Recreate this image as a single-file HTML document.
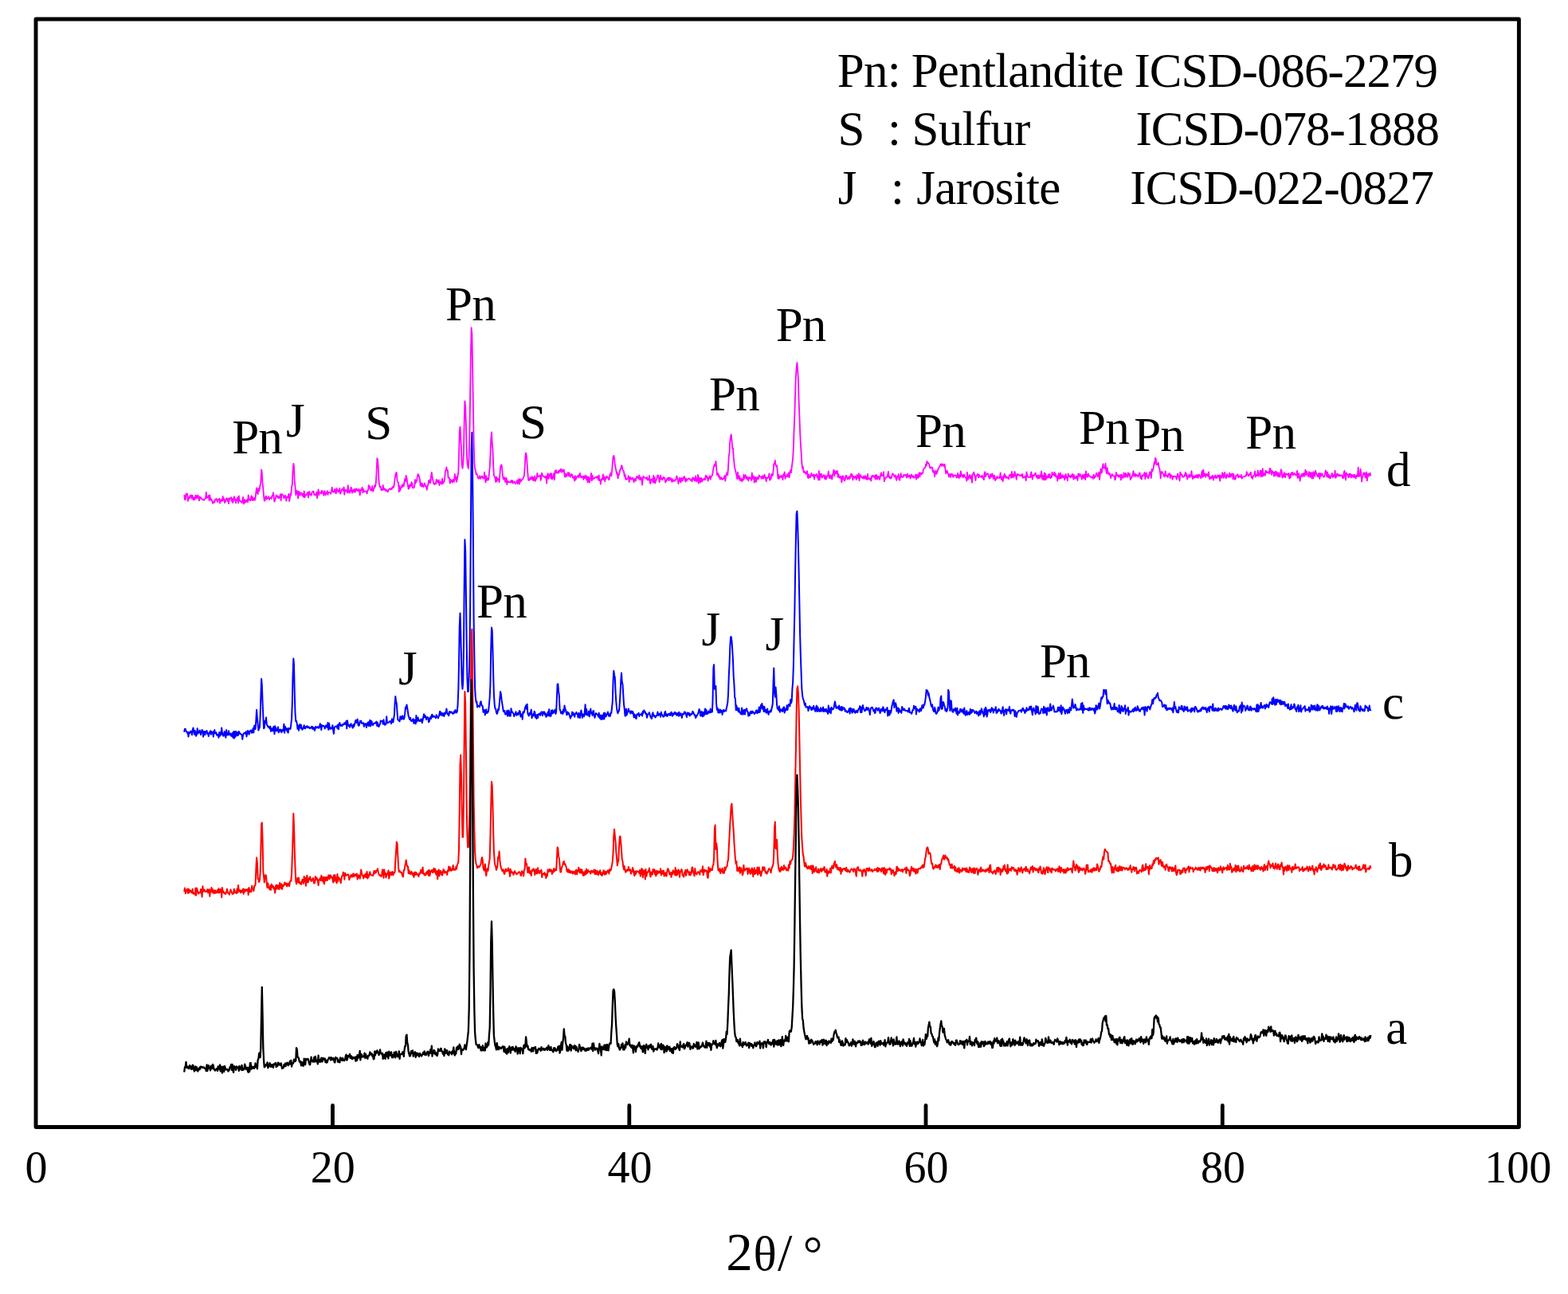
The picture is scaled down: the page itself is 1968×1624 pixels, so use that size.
<!DOCTYPE html>
<html lang="en">
<head>
<meta charset="utf-8">
<title>XRD patterns</title>
<style>
html,body{margin:0;padding:0;background:#fff;}
body{width:1968px;height:1624px;overflow:hidden;}
svg{display:block;}
text{font-family:"Liberation Serif",serif;fill:#000;white-space:pre;}
.ann{font-size:61px;letter-spacing:-0.75px;}
.icsd{font-size:61px;letter-spacing:-0.95px;}
.tick{font-size:56px;}
.axis{font-size:66px;}
.ax2{font-size:67px;}
.axt{font-size:61px;}
.axd{font-size:61.7px;}
</style>
</head>
<body>
<svg width="1968" height="1624" viewBox="0 0 1968 1624">
<rect x="0" y="0" width="1968" height="1624" fill="#fff"/>
<g id="traces">
<path d="M231.3 621.7l.7 5.4 .8-.1 .7-7.4 .8 .4 .7-.5 .8 9.3 .7-4.5 .8-.3 .7 1.6 .7-3.9 .8 2.1 .7-2.5 .8 4.7 .7-4 .8 3.5 .7 1.9 .8-3 .7 2.5 .7-5.2 .8 .1 .7 3.7 .8-1.1 .7-3 .8 2.5 .7 4.4 .8-4.9 .7 2 .7-1.1 .8 1.6 .7 .5 .8 .7 .7-.1 .8 .8 .7-1 .8-.5 .7-1.8 .7-6.6 .8 7.1 .7-1 .8 .3 .7-2.6 .8 6.5 .7-6.7 .8 6 .7-1.7 .7 1.8 .8 1.2 .7 3 .8-1.6 .7-.7 .8 1.1 .7-3.6 .8 .2 .7-1.5 .7 2.1 .8 2.2 .7-2.9 .8 .1 .7-1.6 .8 5.9 .7-4.1 .8 1.5 .7-2 .7 1.8 .8-5.9 .7 5.1 .8-1.9 .7 5 .8-1.3 .7-2.8 .8-1.1 .7-.5 .7 3.9 .8-3.2 .7 6.2 .8-7.1 .7 1.1 .8-.9 .7-1.2 .8 4.9 .7-3.1 .7 5.1 .8-2.9 .7-5 .8 2.8 .7 2.1 .8 3.4 .7-4.6 .8 .5 .7-3.1 .7 7.2 .8-9 .7 6.5 .8-.7 .7 .9 .8 .9 .7 1.1 .8-2.6 .7-4.6 .8 8.6 .7-5.7 .7 4 .8-3.2 .7 2.6 .8-2.2 .7-1.1 .8 3.3 .7-8.9 .8 5.5 .7 .8 .7 .8 .8-2.6 .7-3.7 .8 5.7 .7-4.2 .8 4.4 .7-1.2 .8-1.9 .7 2.8 .7-2.7 .8-8.1 .7-4.5 .8 6.2 .7 1.5 .8-7.3 .7 3.7 .8-3.5 .7-4.3 .7-2.2 .8-17.1 .7 3.1 .8 13.9 .7 7.3 .8 9.3 .7 5.6 .8-.4 .7-4.8 .7-.8 .8 4.1 .7-1.6 .8-.3 .7-1.7 .8 4.1 .7-2 .8-.3 .7 .1 .7 .9 .8-3.7 .7-.2 .8-3.9 .7 7.4 .8 4.1 .7-2.4 .8-2.8 .7-3 .7 1.9 .8-.8 .7 2.5 .8-1.7 .7 1.8 .8-2.3 .7-2.6 .8 7.9 .7-8 .7 .2 .8 1.2 .7 .4 .8 3.4 .7-1.2 .8-2.3 .7 2.4 .8 4.4 .7-4.9 .7-.6 .8 1.1 .7-4.4 .8 9.4 .7-3.7 .8-6 .7 1.8 .8-10.2 .7-2.5 .7-16.3 .8-10.5 .7 3.1 .8 19.7 .7 6.1 .8 10.5 .7-2.5 .8-3.1 .7 3.8 .7 6 .8-8.8 .7 1.5 .8 3.6 .7-3.4 .8 1.4 .7-1 .8 3.7 .7-2.4 .7 3.8 .8-7.5 .7 7.9 .8-1.8 .7-1.6 .8 .5 .7-2.4 .8-1.3 .7 6.9 .7-4.9 .8-2.8 .7 4.1 .8-.6 .7 1.5 .8-3.4 .7-1.2 .8-.6 .7 0 .7 4.5 .8-.6 .7 1 .8-1.1 .7-2.6 .8 7.4 .7-6.6 .8-4.2 .7 6.7 .7-3.2 .8 .2 .7 0 .8 1.5 .7-4 .8 1.8 .7 1.1 .8 3.3 .7-5.6 .7 .6 .8 4.5 .7-1.5 .8-1.2 .7-2.4 .8 4.6 .7-2.9 .8 .2 .7 0 .7 0 .8 1.8 .7-3 .8-5.3 .7 5 .8 .8 .7 .3 .8-2.2 .7-1.7 .7 4.8 .8 .6 .7-6.4 .8 3.5 .7-1.3 .8 2.7 .7-1.8 .8-3 .7 6.9 .7-2 .8-2.3 .7-1.6 .8-.4 .7 2.3 .8-4.4 .7 9.4 .8-6.3 .7 1.6 .7-1 .8 1.6 .7 1.7 .8-9.3 .7 8.7 .8-2.2 .7 3.1 .8-1.9 .7-5.1 .7 .8 .8 6.2 .7-1 .8-3 .7 2.4 .8-3.3 .7 4.1 .8-3.4 .7-1.4 .7 2.4 .8-1.1 .7 1.9 .8-2.5 .7 .8 .8 6.7 .7-4.1 .8-3.3 .7 1.2 .7-3.5 .8 6.8 .7-4.4 .8 3.2 .7-.2 .8-.4 .7-.1 .8 .4 .7 2.6 .8-4.2 .7 .1 .7-6.4 .8 3.5 .7-1.7 .8 3.9 .7 1 .8-.5 .7-5.2 .8 6.6 .7-1.8 .7-2 .8-3.6 .7 1.7 .8-4.6 .7-11.3 .8-19.8 .7 1.4 .8 10.8 .7 15.8 .7 5.6 .8 2.6 .7-.7 .8 4.3 .7 .3 .8-.4 .7-6.1 .8 5.2 .7 .8 .7-1.6 .8 1.1 .7 1.8 .8-1.3 .7 1 .8 1.6 .7-1.7 .8-1.9 .7-.1 .7-.4 .8 1.3 .7-1.7 .8 .8 .7-2.4 .8-.6 .7 1.2 .8-4.8 .7-5.9 .7-5 .8-2.6 .7-.6 .8 11 .7 1 .8 1.1 .7 11 .8-7.3 .7 5.8 .7-3 .8-.6 .7-3.1 .8 1.9 .7-3.1 .8 2.4 .7-5.4 .8-3.8 .7 3.2 .7-7.2 .8 2.8 .7 5.5 .8 4.9 .7 3.8 .8-5.1 .7 3.6 .8-4.2 .7 1.8 .7-4.9 .8 1.1 .7 6 .8 .3 .7-.4 .8-1.6 .7-8.5 .8 4.6 .7-3.4 .7 .5 .8-6.2 .7-2.4 .8 .8 .7 2.5 .8 3.4 .7 7.5 .8-3 .7 4.3 .7-3.9 .8 2.6 .7 1.8 .8-1.6 .7-3 .8 2.3 .7 2 .8-.2 .7 4.2 .7-5.1 .8-.8 .7-5.7 .8 2.6 .7-3.7 .8 4.1 .7-9 .8-4.2 .7 5.5 .7 3.3 .8 4.4 .7 .9 .8 .9 .7-1.6 .8 1 .7-5.5 .8 .4 .7 3.3 .7-.2 .8-3.1 .7 6.7 .8-2.9 .7-1.5 .8 1.8 .7 1 .8-6.7 .7 6.2 .7-2.1 .8 0 .7-3 .8-10.4 .7-1.2 .8-3.7 .7 4.1 .8-.4 .7 9.5 .7-.4 .8 .6 .7 6.7 .8-5 .7 3 .8-1.8 .7 2.8 .8-3.8 .7 2.1 .7 .8 .8-9.9 .7 6.7 .8-3.4 .7 6.7 .8-3.1 .7-4.2 .8-5 .7-19.5 .7-30.6 .8-6.8 .7 11.7 .8 17.4 .7 18.2 .8 5 .7-4.9 .8-15.3 .7-39.1 .7-25.3 .8 6.9 .7 22.1 .8 32.1 .7 15.7 .8 5.5 .7 2.4 .8-17 .7-27.6 .7-45.7 .8-54.5 .7-32.1 .8 8.8 .7 39.4 .8 50.1 .7 43.4 .8 27.6 .7 8 .7 1.6 .8 5.3 .7-1.1 .8 2.1 .7 3.4 .8 .8 .7-.8 .8-2.6 .7 3.8 .8-1.4 .7-1.5 .7-.5 .8 1.9 .7 1.2 .8-.4 .7-7.6 .8 6.9 .7 5.8 .8-8.2 .7 5.8 .7-.9 .8-2.1 .7 2.5 .8-9.3 .7-6.2 .8-16.8 .7-19.1 .8-8.7 .7 13.5 .7 7.7 .8 19.8 .7 13.3 .8 1.3 .7 2.3 .8 4.7 .7-6.4 .8 5.7 .7-4.1 .7 1.7 .8-.4 .7 3.8 .8-9.7 .7-9.4 .8-2.2 .7-.6 .8 7.5 .7 7.1 .7 3.8 .8-2.6 .7 .2 .8 5.7 .7-4.2 .8-.8 .7 8.2 .8-4.8 .7 1.6 .7 .3 .8-.5 .7 0 .8 .8 .7-2.6 .8 2.1 .7-2.2 .8 3.7 .7-2.1 .7-.2 .8 .9 .7 1.9 .8-.6 .7-1.1 .8-2.3 .7 4.3 .8-5.9 .7 .2 .7 5.9 .8-6.7 .7 3.5 .8-.7 .7-1.4 .8-1.2 .7-.2 .8-2 .7-2.3 .7-8.4 .8-15.5 .7-4.4 .8 4.2 .7 10 .8 11.5 .7 8 .8 .8 .7-.1 .7-3.6 .8 2.3 .7-1 .8-2.2 .7 4.1 .8-3.4 .7 4.5 .8-1.3 .7-4.8 .7 6.5 .8-2.8 .7-.3 .8-6.9 .7 4.7 .8-.5 .7-.1 .8-1 .7-.5 .7 6.5 .8-5.1 .7-4.2 .8 3.5 .7 .1 .8 1.1 .7 .5 .8 .6 .7-2 .7 1.7 .8 7.5 .7-10.1 .8-2.3 .7 6.6 .8-3.8 .7-1.3 .8-1.5 .7 6.1 .7-6.1 .8 7.3 .7-1.1 .8-2.1 .7-4.2 .8 8.2 .7-11.4 .8 2.8 .7-3.5 .7 3.2 .8-.5 .7 .9 .8-3 .7 1.9 .8-2.8 .7 1.5 .8-2.9 .7 4.2 .7-.2 .8-2.8 .7 1.8 .8-2.1 .7 7.2 .8 2 .7-4.3 .8 3.8 .7-2.2 .7-.8 .8-2.2 .7 4.5 .8-3.8 .7 3 .8 2 .7-2.8 .8-.8 .7 1.3 .7 3.3 .8-1.5 .7 2.7 .8 2.8 .7-6.5 .8 4.7 .7-1.7 .8-1.9 .7-.2 .7-1.3 .8 2.8 .7-4.1 .8-1.5 .7 3.4 .8 2.4 .7-1.2 .8-.8 .7 1 .7 3.2 .8-4.8 .7 3 .8-.2 .7-3.3 .8 5.4 .7-3.6 .8 7.1 .7-7.2 .7 1.3 .8 5.9 .7-2.9 .8-3 .7-5.6 .8 9.3 .7-6.6 .8 4.7 .7-1.4 .7 .6 .8-1 .7-.7 .8 .1 .7 .9 .8-2.2 .7 1.2 .8 3.7 .7-6.3 .7 6.7 .8-.9 .7 5.5 .8-5.3 .7-1.7 .8 1.1 .7-6.3 .8 6.5 .7-3.7 .8 6 .7-4.7 .7 1.3 .8-3.3 .7 1.5 .8 .1 .7 2.2 .8 1 .7-4.2 .8-3.5 .7-1 .7 3.7 .8-6.4 .7-9.4 .8-8.3 .7-1.3 .8 2.8 .7 8.6 .8 3.9 .7 3.2 .7 4.3 .8-1.4 .7 7 .8-4.1 .7-.2 .8-4.5 .7-2.4 .8-.8 .7-4.2 .7 .6 .8 4.7 .7 1.4 .8 .9 .7 6.3 .8-2.6 .7 6.3 .8-1.3 .7 1.2 .7-.6 .8-1 .7-2.9 .8 7.8 .7-5.7 .8-.5 .7 2.9 .8-.1 .7-1.7 .7-.3 .8 3.2 .7 2.4 .8-4.1 .7 0 .8 2.6 .7-3.8 .8-2 .7 .2 .7 2.2 .8 .4 .7-4.3 .8 5.6 .7 .1 .8-3.1 .7 2.8 .8 7 .7-8.3 .7-2.7 .8 1.4 .7 .2 .8 .2 .7 .4 .8 1.2 .7-2.3 .8 3.6 .7-1 .7 .8 .8-5.4 .7 8 .8 2.2 .7-5.1 .8-.6 .7 .1 .8 4.3 .7-8.7 .7 8.5 .8-6.5 .7 7.3 .8-3 .7-1.2 .8-2.8 .7-3 .8 .7 .7 3.3 .7 4.8 .8-5 .7-3.4 .8 4.6 .7-1 .8 1.8 .7-2.1 .8-1.3 .7 1.7 .7-.4 .8 5.4 .7-2.7 .8 1 .7-3.4 .8 1.3 .7-2.3 .8 3.9 .7-3.6 .7 2 .8-1.7 .7 3 .8 1.7 .7-3.4 .8 2.9 .7-1.5 .8 .5 .7 .6 .7-1.8 .8-.4 .7-4.1 .8 2 .7 2.5 .8 5.2 .7-4.1 .8-3.3 .7 3.2 .7 2.6 .8-5.7 .7 3.6 .8-.1 .7-3.7 .8 .7 .7-2.3 .8 5.1 .7 1.3 .7-3.9 .8 3 .7-1.8 .8-.2 .7-1.1 .8 .4 .7-.2 .8 1.9 .7 .3 .7-.9 .8 2.3 .7-4.9 .8 2.4 .7-1.9 .8 3 .7 .7 .8-6.1 .7 5.7 .7 1.1 .8-2.4 .7-5.9 .8 10.7 .7-7.2 .8 1.4 .7 4.8 .8-5.8 .7 .6 .7 4 .8-2.4 .7 .4 .8-1.8 .7 .1 .8 1.6 .7-5.6 .8 .9 .7 1.7 .7-1 .8 5.4 .7-4 .8 .3 .7-2.8 .8 4.5 .7-2.8 .8-1.3 .7-1.1 .7-3.2 .8-5.5 .7-3 .8-2 .7 1.8 .8-5.8 .7 6.9 .8 10.6 .7-1.7 .8-.5 .7 4.4 .7-1.2 .8 4.1 .7-.3 .8-2.1 .7 2.6 .8-.6 .7 .7 .8-1.1 .7-1.5 .7-2.1 .8 6.6 .7-5.5 .8-3 .7-2.2 .8 3.4 .7-9.3 .8-14.6 .7-4.3 .7-13.5 .8-6.5 .7-2.8 .8 7.2 .7 10.3 .8-.3 .7 11.4 .8 7.6 .7 6 .7 2.2 .8 3.7 .7 2.6 .8 5.1 .7-8.4 .8 5.5 .7 2.9 .8-3.7 .7 5.7 .7-.8 .8-1.9 .7 3.7 .8-2.7 .7 1.4 .8-6.8 .7 5 .8-2.9 .7-2.1 .7 3.2 .8 1.9 .7-2.7 .8 2.9 .7 2 .8-4.4 .7 .2 .8 1.2 .7-.1 .7 2.8 .8-9.5 .7 7.6 .8-2.7 .7-.9 .8 8.1 .7-5.5 .8-1.3 .7 6 .7-3.6 .8-2.2 .7 2.4 .8-.7 .7-4.3 .8 1.4 .7 .5 .8 .2 .7 2.2 .7-3 .8-.5 .7 3.5 .8-.6 .7-4.5 .8 2.4 .7 2.1 .8 4.1 .7-4.7 .7 .6 .8-.9 .7 0 .8-4.9 .7 8.4 .8-2.8 .7 1.3 .8-6.3 .7 .9 .7 1.2 .8-6.5 .7-8.3 .8-.2 .7-4.2 .8 6.8 .7 .5 .8-1 .7 8.2 .7 8.5 .8-4.8 .7 4.6 .8-2.7 .7 .9 .8-1.8 .7 2 .8-1.7 .7 4.8 .7-6.8 .8 1.5 .7-4.5 .8 8.3 .7-2 .8-.2 .7-3.3 .8 2.4 .7 .9 .7-4.9 .8 5.5 .7-6.5 .8-2.5 .7 3.3 .8-6.7 .7-5.4 .8-6.5 .7-12.9 .7-22.4 .8-19.9 .7-24.1 .8-22.4 .7-10.4 .8-7.5 .7 7.9 .8 13.5 .7 25.8 .7 17.1 .8 21.8 .7 14.5 .8 12.2 .7 12.2 .8 7.8 .7-2.3 .8 6.8 .7 .5 .7-1.3 .8 1.6 .7 1.6 .8-1.2 .7-2.5 .8 7.9 .7 1 .8-4.5 .7 3.3 .7 .6 .8-1.7 .7-3.8 .8 2.9 .7-.8 .8 1.5 .7-2.2 .8 6.2 .7-5.3 .7 1 .8-1.6 .7-.7 .8 4.3 .7-1.9 .8 5 .7-11.1 .8 11.2 .7-7.6 .7 3 .8-3.2 .7 5.3 .8-2.4 .7-.3 .8-1.1 .7 3.3 .8 1.7 .7-4.3 .7 4.7 .8-2.2 .7-1.7 .8-1.2 .7-4.7 .8 8.2 .7-3 .8 3.2 .7-3.6 .7 3.7 .8 1.2 .7-5.3 .8-2.9 .7-3.5 .8 7.6 .7-5.7 .8 .8 .7 1.8 .7-3.2 .8 .3 .7 7.6 .8-3.8 .7 3.9 .8 .8 .7-1.7 .8-.1 .7 7.2 .8-2.7 .7-5.4 .7 1 .8 3.3 .7 2.2 .8-1.4 .7-5.1 .8-.2 .7 1.5 .8 2.9 .7-1.9 .7 1.6 .8-3 .7 2.8 .8-2.1 .7-4 .8 2.9 .7-2.1 .8 6.9 .7-4.4 .7 .3 .8 1.5 .7-2.1 .8 1.8 .7 2.5 .8-6 .7 2.4 .8 1.6 .7-5.9 .7 9.1 .8-5.6 .7-1.6 .8 2.3 .7 1.2 .8-.2 .7 .9 .8-2.9 .7 3.4 .7-.2 .8-3.4 .7 4.1 .8-2.7 .7 3.4 .8-7 .7 6.5 .8-.6 .7-.4 .7 1.3 .8-1.7 .7 3.5 .8-6.3 .7 1 .8-1.6 .7 1.6 .8 .6 .7-1.7 .7 4.6 .8-5.7 .7 .1 .8 5.6 .7-4.1 .8 2.3 .7-1.6 .8 3.6 .7-2.3 .7-4 .8-2.3 .7 4.1 .8-.4 .7 .2 .8-5 .7 12 .8-2.2 .7-2 .7-.9 .8-.5 .7 .4 .8-3.9 .7-3.2 .8 7.1 .7 .9 .8-1.6 .7 2.4 .7-1 .8-2.5 .7-2.9 .8 .6 .7 1.4 .8 1.6 .7 .7 .8-2.2 .7 5 .7 1.3 .8-4.9 .7 .6 .8-3.3 .7 6.6 .8 1.1 .7-4.4 .8-4.2 .7 4.5 .7-.5 .8 .8 .7-.5 .8-2.7 .7 .9 .8-.3 .7-.8 .8 1.6 .7 2.3 .7-4.9 .8 3.2 .7 .8 .8-1.9 .7-.4 .8 4.2 .7-1.8 .8-3.2 .7 2.6 .7 .6 .8-1.5 .7 2.6 .8-1 .7-.3 .8-3 .7 6.1 .8-5.3 .7-.5 .7 4.3 .8-3 .7-4 .8 5.3 .7-4.6 .8-.4 .7 1.7 .8-1 .7-.2 .7-4.6 .8-1.1 .7-.7 .8-.6 .7-4.2 .8 1.7 .7-5.6 .8 2.6 .7-.8 .7 1 .8 2.5 .7 2.9 .8 .5 .7-1.2 .8 1 .7-.7 .8 6 .7-2.2 .7 1.3 .8 6.5 .7-5.2 .8-2.7 .7 4.5 .8-1.3 .7-2.4 .8-3 .7-.7 .7-1.8 .8-.6 .7-2.1 .8-.8 .7 2.8 .8-2 .7-.5 .8 2.1 .7 1 .7-2.9 .8 6.6 .7 5.1 .8-2.5 .7-1.2 .8 3.4 .7 .3 .8 4.2 .7-3.3 .7-.1 .8 3.7 .7-4 .8-.2 .7 1.2 .8 3.1 .7-2.5 .8 .8 .7-.2 .8-.8 .7 .8 .7 2.5 .8-.9 .7-4.6 .8 5 .7 1.1 .8-4.2 .7 2.8 .8-7.4 .7 6.4 .7-2.2 .8 1.7 .7 2 .8-3.6 .7 .5 .8 2.4 .7 .6 .8 1.3 .7 3.2 .7-10.8 .8 8.9 .7-.9 .8-3.1 .7-1.9 .8 4.4 .7 .4 .8-3.7 .7 8.9 .7-10.7 .8-.6 .7-1.8 .8 3.5 .7 1.8 .8 5 .7-6 .8-.1 .7-1.6 .7-.3 .8 4.3 .7-3.3 .8 1.5 .7 .7 .8 .7 .7-.9 .8-1.4 .7 3.5 .7-1 .8 3 .7-8.4 .8-1.4 .7 5.9 .8-2.8 .7-.9 .8 0 .7 0 .7 3.1 .8 2.4 .7 .6 .8-5.4 .7 3.3 .8-1.1 .7-3 .8 2.4 .7 4.3 .7-4.2 .8 0 .7 6.1 .8-1.5 .7-.2 .8-3.4 .7 1.9 .8-.4 .7 .1 .7 .6 .8-2.2 .7-4.5 .8 7.6 .7 1.1 .8-3.6 .7 5.6 .8-4.4 .7-3.5 .7-1.4 .8 4.7 .7-2.3 .8 2.6 .7 .1 .8-1.1 .7 .7 .8 1.6 .7-4.9 .7 .2 .8-.9 .7 4.3 .8-7.8 .7 5.5 .8 1.9 .7-4 .8 2.4 .7-5.8 .7 3.3 .8 2.8 .7 3.7 .8-7.1 .7 1.9 .8-.9 .7-.2 .8 1.3 .7 .6 .7-.3 .8-1.5 .7 2 .8-2.6 .7 4.9 .8-.8 .7-.3 .8-1.1 .7 .9 .7 4.5 .8-10.7 .7 3.3 .8 2.8 .7 .4 .8 0 .7 .2 .8-.1 .7-4.3 .7-2.4 .8 6.8 .7 2.4 .8-5.3 .7 .9 .8-.4 .7-2 .8-1.1 .7 3.3 .7 2.3 .8-2.6 .7 3.9 .8-4.1 .7 4 .8-3.2 .7 1.8 .8-3.7 .7-4 .7 9.3 .8-3.9 .7 5.5 .8-1.4 .7-7.3 .8 9 .7-7.8 .8 6.4 .7-1.9 .7-1.5 .8 1.8 .7-4 .8 3.5 .7-4.1 .8 5.2 .7-1.8 .8 1 .7-6.5 .7 1.6 .8 2 .7-.5 .8-3.3 .7 4.9 .8-2.6 .7 3.6 .8-.9 .7 6.1 .7-5.6 .8-4.1 .7 6.8 .8-.7 .7-6.4 .8 6.7 .7-1.8 .8-2.5 .7 3.3 .7-1.9 .8-.4 .7 5.1 .8-2.1 .7-5.2 .8 4.6 .7-.9 .8 4.7 .7-8.9 .7 3.7 .8-1.4 .7 1 .8 1.6 .7-2.6 .8 2.1 .7-3.6 .8-.1 .7 6.5 .7-5.4 .8 2.1 .7 2.3 .8-.8 .7-2.4 .8 2.7 .7 2.9 .8-8.7 .7 1.8 .8 1.7 .7-3 .7 2.6 .8 .4 .7 3.8 .8-5.8 .7 2.2 .8 2.1 .7-4.8 .8 1.9 .7 4.8 .7-10.5 .8 6.8 .7-2.6 .8 3 .7-4.4 .8 3.1 .7-.2 .8 .6 .7 .8 .7 .9 .8-.9 .7-.3 .8 2.5 .7-5.1 .8 4.3 .7-2.3 .8 .9 .7-3.1 .7-1.8 .8 1.8 .7 2.8 .8-2.9 .7-2.7 .8 9.3 .7-7 .8-6.7 .7 5.2 .7-.7 .8-7 .7-3.7 .8 5.2 .7-.3 .8 .8 .7-6.2 .8 9.2 .7 3.5 .7-7.1 .8 5.1 .7 2.6 .8 .5 .7-1.4 .8 2.7 .7 3.3 .8-3.2 .7-1.8 .7 1.5 .8 .5 .7 .7 .8-.4 .7 5 .8-1.6 .7-7.9 .8 4.2 .7-1.3 .7 1.2 .8 1.8 .7-2.2 .8 1.4 .7-1.8 .8 6.2 .7-6.7 .8 2.6 .7 1.8 .7-1.1 .8-5.5 .7 3.2 .8 2.4 .7-5.1 .8 1.5 .7 2.7 .8 .6 .7-5.4 .7 1.1 .8 3.1 .7-3 .8 7.6 .7-2.4 .8 .1 .7-3 .8-1.2 .7-4.4 .7 6.7 .8-1.5 .7-1.9 .8 3.5 .7-2.1 .8-.1 .7 .9 .8 1.7 .7-1.9 .7-2.8 .8-.1 .7 6.6 .8-2.3 .7 3.7 .8-5.4 .7 1.2 .8-.7 .7-2 .7-1.7 .8 8.2 .7-6.3 .8-1.4 .7 4.5 .8-.5 .7 2.9 .8-2.7 .7-3.5 .7-2 .8 2.9 .7 4.9 .8-11.1 .7 2.7 .8-2 .7-2.9 .8-6.2 .7 1.8 .7-7.6 .8 1 .7 7.1 .8 .8 .7-.6 .8-2.5 .7 5.6 .8 1.9 .7 4.5 .7 7.8 .8-7.6 .7-.8 .8 1.5 .7 1 .8 1.2 .7 2.8 .8-1.8 .7-5.1 .7 6.1 .8-.6 .7-.3 .8 2.3 .7-4 .8 .5 .7-1.4 .8 6 .7-4.3 .7 1.4 .8-.1 .7 4.8 .8-4.2 .7 .5 .8-.8 .7 .5 .8 .2 .7 .8 .7 2.6 .8-5.3 .7-1.7 .8 3.9 .7 2.2 .8 2.7 .7-10.6 .8 1.5 .7 2 .7-.6 .8 2.9 .7 .4 .8-1.3 .7 .5 .8-3 .7-2.3 .8 4.9 .7-2.5 .7 6.1 .8-2.6 .7-.7 .8-2.5 .7 3.5 .8-2.5 .7 1.1 .8-6.5 .7 6.7 .8 3.2 .7-3.7 .7-.1 .8 2.6 .7-1.1 .8-1.9 .7 2.3 .8-3.1 .7 3.1 .8 .6 .7-4.2 .7 .2 .8 2.2 .7-.3 .8 2.6 .7-6.3 .8-3.1 .7 8.1 .8-9.3 .7 7.9 .7-2.7 .8-.4 .7 4.4 .8-2.4 .7-1.5 .8 1 .7 1.9 .8-5.4 .7 7.7 .7 1.2 .8-2.3 .7-.5 .8 1.9 .7-3.5 .8-.1 .7 5.8 .8-4.2 .7 .7 .7-2.6 .8 3.5 .7-1.7 .8 1.6 .7-3.3 .8 .5 .7 1.6 .8-2.4 .7 7.3 .7-6.6 .8 1.4 .7 1.2 .8-6.4 .7 1.5 .8 5.1 .7-4.3 .8-2.6 .7 5.2 .7 2.2 .8-1.3 .7-4.1 .8 2.7 .7 .5 .8 .8 .7-5.2 .8 4.5 .7 .5 .7-4.1 .8 2.6 .7-2.6 .8 6.8 .7-6.4 .8 4.6 .7 2.1 .8-.3 .7-4.8 .7 .8 .8-1.1 .7-1 .8 4.1 .7-1.4 .8-.9 .7 1.5 .8 .2 .7-2.9 .7 4.6 .8-1.1 .7-1 .8-.2 .7-.2 .8 0 .7-1 .8 .4 .7-5.3 .7 2.4 .8 1.2 .7 1.8 .8-2.2 .7 .7 .8-2.3 .7-.9 .8 6.5 .7-1.6 .7 3.2 .8-3.4 .7-.4 .8-1.6 .7-4.1 .8 7.2 .7-2.6 .8 .4 .7 .5 .7-6.4 .8 7 .7-.9 .8-2.4 .7-3.9 .8 7.9 .7-7.3 .8 6.9 .7-9.7 .7 9.3 .8-2.7 .7-.4 .8 2.5 .7-6.1 .8 .7 .7 2.1 .8-1.1 .7 .7 .7-1 .8 2.4 .7-6.6 .8 .2 .7 4.5 .8 3.3 .7-4.9 .8 2.4 .7-.4 .7 4.7 .8-5.2 .7 4.6 .8-5.5 .7 .7 .8 4.6 .7-3.4 .8 4.5 .7-4.7 .7 3.8 .8 1.4 .7-4 .8-5.4 .7 1.7 .8 8.7 .7-3.6 .8 2.5 .7-5.4 .7 4.7 .8 1.3 .7-4.6 .8 .9 .7 .1 .8-.7 .7 2.4 .8-3.1 .7 6.7 .7-5.3 .8 4.1 .7-6 .8 1.8 .7-2.4 .8 3.6 .7-1.8 .8-1 .7 .7 .7 1.9 .8-.4 .7 .7 .8-5.6 .7 9 .8-1.9 .7-3.9 .8 4.9 .7 4.4 .7-6 .8 .2 .7-2.9 .8 3.2 .7-3.4 .8-.7 .7 4 .8-2 .7-6.2 .7 6.3 .8-4.4 .7 3.4 .8 .5 .7 2.6 .8-5.9 .7 3.1 .8 3.6 .7-6.1 .7 2.7 .8 5.1 .7-7.4 .8 7.2 .7-8.3 .8 5.2 .7 .5 .8-7.1 .7 2.7 .8 1.7 .7 1.4 .7 1.9 .8-4.2 .7 0 .8 6.6 .7-7 .8 3.8 .7-1 .8-2.3 .7 2 .7 1.5 .8 1 .7-.8 .8-3.4 .7-4.3 .8 1.6 .7 6.2 .8-5.4 .7 6.1 .7-3.3 .8 4.2 .7-2.7 .8 3.3 .7-2.5 .8-1.5 .7-2.5 .8 5.5 .7-2.7 .7-.7 .8 2.1 .7-7.4 .8 9.3 .7-1.5 .8-3.5 .7-.5 .8 2.7 .7 .5 .7-2 .8 .6 .7 1.3 .8-1.1 .7 .1 .8 .5 .7 3.2 .8-.7 .7-7.2 .7-1.4 .8 8 .7 3.4 .8-8.9 .7 2 .8-.2 .7 1.7 .8 2.2 .7-4.5 .7 3 .8-3 .7 4.9 .8-3.5 .7 .4 .8 1.9 .7-2.3 .8 3 .7-3 .7 1.7 .8 2.8 .7-4.1 .8 1.6 .7-.5 .8-10.8 .7 11.4 .8-2.6 .7 1.7 .7-8.5 .8 6.2 .7 9.5 .8-5.9 .7-1.1 .8-3.9 .7 1.7 .8-1.7 .7 6 .7-3.2 .8-3.6 .7 10.6 .8-6.8 .7-1.9 .8 3 .7-2.4 .8-1.5 .7 2.9" fill="none" stroke="#ff00ff" stroke-width="1.8" stroke-linejoin="round" stroke-linecap="round"/>
<path d="M231.3 918.1l.7-3.4 .8 .2 .7 2.7 .8 .9 .7 1.3 .8-1 .7 5.8 .8-5.6 .7 1.4 .7-1.7 .8-1.1 .7 1.7 .8 2.9 .7-5.7 .8-3 .7 3.4 .8 4.9 .7-4.9 .7 3.6 .8 3.3 .7-2.3 .8-7.3 .7 6.4 .8-2.6 .7 1.2 .8-2.7 .7 3.9 .7 1.7 .8-3.5 .7-2.5 .8 .6 .7 8 .8-5.2 .7-1.4 .8 4.1 .7-4.2 .7 1.1 .8-2 .7 4 .8-.8 .7 3.8 .8-4.2 .7-1.2 .8-1.5 .7 4.5 .7-3.5 .8 1.9 .7-1.4 .8 5.9 .7-7 .8-1.5 .7 4.5 .8-.9 .7-.3 .7 3.3 .8-.3 .7-.3 .8 3.6 .7-6.7 .8 4.7 .7-4.4 .8 2.8 .7-8.7 .7 5.9 .8 3.2 .7 1.1 .8-2.8 .7-2.7 .8 5.8 .7 1.7 .8-9.5 .7 5.3 .7 1.2 .8-.2 .7-5.1 .8 4.9 .7-.5 .8-1.1 .7 3.1 .8 .1 .7-3.7 .7 5.4 .8-7.3 .7 8.5 .8-8.6 .7 6.8 .8-7 .7 4.5 .8 .9 .7-4.3 .7 3.8 .8-4.7 .7 1.1 .8 1.9 .7-.2 .8 .9 .7 .3 .8 5.7 .7-5.2 .8-2.1 .7-.5 .7-.1 .8 .8 .7-2.5 .8 6.2 .7-3.9 .8-3.4 .7 .3 .8 4.3 .7-1.4 .7-2.8 .8-.9 .7-.1 .8 3.4 .7-2.2 .8-3.8 .7 5.4 .8-8.8 .7 3.4 .7 1.1 .8-11.6 .7-12.7 .8 10.9 .7 7.1 .8 7.9 .7-2.2 .8-1.4 .7-13.8 .7-22.7 .8-24.6 .7 7.4 .8 23.2 .7 16 .8 15.8 .7-1 .8-8.6 .7 2.6 .7-6.9 .8 8.7 .7 1.5 .8 1.4 .7 .8 .8-.9 .7 2.5 .8-2.7 .7 6.1 .7-3.7 .8 1.6 .7 1.7 .8-4.5 .7-1.1 .8 9.3 .7-9.8 .8 2.5 .7 3.6 .7-.1 .8-2.3 .7-2.5 .8 6.8 .7-1.7 .8-1.9 .7-.2 .8 2.7 .7 1 .7-3.3 .8-.2 .7 1.7 .8-8.7 .7 11.1 .8-8.1 .7 2.7 .8 2 .7-2.3 .7 3.7 .8 1.9 .7-5.9 .8 1.4 .7-1 .8 .5 .7-5.7 .8-7.6 .7-19.4 .7-32.8 .8-22.7 .7 7 .8 38.6 .7 22.4 .8 10.7 .7-.4 .8 3.8 .7 6.2 .7-4.1 .8 6.1 .7-6.7 .8-1 .7 4.6 .8-3.6 .7 4.2 .8 1.5 .7-1.5 .7-1.3 .8-2.7 .7 4 .8 0 .7-2.2 .8 .3 .7-1.3 .8 2.2 .7-.5 .7-.7 .8 1.7 .7 .4 .8-.7 .7-.9 .8-.8 .7 2.9 .8-2.2 .7 2.8 .7-1.5 .8 3.1 .7-4.7 .8-.1 .7 1.4 .8-.3 .7-1.1 .8 .3 .7 1.5 .7-1.7 .8-3.9 .7 1.3 .8 6.5 .7-6 .8 1.3 .7-.5 .8 0 .7 .7 .7 2.9 .8-2.8 .7-1.4 .8 1.4 .7 1.3 .8-6 .7 8.8 .8-8 .7 4.2 .7 3.1 .8-1.5 .7 .8 .8-1.5 .7-2.7 .8 6.6 .7 4.1 .8-7.8 .7-1 .7-.4 .8-.1 .7-.4 .8 2.9 .7-4.6 .8 5.8 .7-6.6 .8-1.6 .7 2.5 .7 1.4 .8-1.3 .7 1.4 .8-1.8 .7-.6 .8 .7 .7-2.1 .8 .9 .7 .8 .7-4.1 .8 9.4 .7-10 .8 4.8 .7 1.8 .8-1 .7 2.8 .8-2.2 .7-2.2 .7 2.2 .8 1.6 .7 1.5 .8-4.4 .7 2.6 .8-2.1 .7-3.6 .8-2.4 .7 3.4 .7-1 .8-3.5 .7 6.7 .8 1.6 .7-.7 .8-5.1 .7 1.3 .8-1.8 .7 3.2 .7-.2 .8 .4 .7-.8 .8 4.5 .7-3 .8-.4 .7 .2 .8 4.5 .7-5 .8 2.3 .7-4.1 .7 5 .8-2.4 .7-5 .8 7.6 .7-6.7 .8 .7 .7 4.3 .8 .4 .7-1.8 .7-.4 .8-.7 .7 .6 .8-1.2 .7-1 .8 5.5 .7-4 .8 4.2 .7 .7 .7-2.2 .8-.9 .7-4.4 .8 .6 .7-.2 .8 .3 .7 3.5 .8-5.4 .7 5.2 .7 1.2 .8-1.7 .7 1.2 .8-9.9 .7 7.1 .8 .9 .7-.6 .8-.1 .7-.9 .7-.6 .8 .3 .7 2.8 .8-5.9 .7 1.6 .8 2.7 .7-4.5 .8-4.7 .7-14.2 .7-9.2 .8 6 .7 2.7 .8 12.4 .7 7.7 .8 1.1 .7 .5 .8 1.1 .7-6.3 .7 0 .8 3.6 .7-2.8 .8-1.6 .7 3.8 .8 .4 .7-2 .8-5.9 .7-7.1 .7 1.6 .8-4.8 .7 4.1 .8 5.3 .7 4.9 .8 2 .7 2.3 .8-2.3 .7 3.3 .7 1.2 .8-.4 .7-1.6 .8-1 .7 5.6 .8-4.4 .7 4.1 .8 1 .7-10.4 .7 7.7 .8-2.2 .7-3.1 .8 4.3 .7 0 .8-1 .7 1.2 .8-2.4 .7 0 .7 4.6 .8-3.5 .7-3.8 .8-3.6 .7 4 .8-2.3 .7 1.4 .8 3.6 .7-2.6 .7-.4 .8 .6 .7 5.7 .8-.8 .7-3.8 .8-1.8 .7 2.1 .8-4.6 .7-.5 .7 3.2 .8-1.6 .7 .4 .8 1.1 .7-.2 .8 1.5 .7-4.1 .8 2.3 .7 .5 .7 1.4 .8-2.2 .7-3.1 .8-3.3 .7 4.8 .8-3.4 .7 3.3 .8 .5 .7-2.9 .7 3.2 .8 .6 .7-4.5 .8 1.7 .7-1.2 .8-5.4 .7 3.7 .8 3.4 .7-.6 .7 2.1 .8-5.2 .7 1.8 .8-1.4 .7 .8 .8-.5 .7 1.8 .8 .4 .7-.3 .7-2.8 .8 1.8 .7-3.4 .8 1.3 .7 2.1 .8-1.7 .7-7.7 .8-18.9 .7-31.9 .7-46.7 .8-18.1 .7 21.9 .8 35.6 .7 29.5 .8 8.2 .7-8.3 .8-44.7 .7-74.9 .7-59.5 .8 14.5 .7 52.9 .8 63.9 .7 42.1 .8 17.5 .7-.9 .8-19.1 .7-25.7 .7-58.3 .8-103.7 .7-94.8 .8-22.9 .7 49.1 .8 88.3 .7 95.4 .8 50.2 .7 37.1 .7 12 .8 6.5 .7-.8 .8 6.8 .7-2 .8 .8 .7 .7 .8 .1 .7-5 .8-1.7 .7 3.9 .7 1.6 .8 .6 .7 7.3 .8-2.7 .7 0 .8 6.3 .7-3.8 .8-3.3 .7 4.9 .7-1.8 .8 .4 .7-2.3 .8-8.4 .7-7.9 .8-18.2 .7-41.5 .8-27.8 .7 3.5 .7 22.7 .8 34 .7 23.7 .8 12.3 .7 5.2 .8 .5 .7 4.4 .8 2 .7-1.1 .7-4.7 .8 1.1 .7-5.9 .8-9.2 .7-8.1 .8 3.4 .7 7 .8 5.3 .7 4.1 .7 4.7 .8 .8 .7-1.2 .8 4.2 .7 .4 .8-.5 .7-4.4 .8 6.9 .7-.7 .7-6.4 .8 3.3 .7 3.8 .8-.2 .7-9.3 .8 4.8 .7-.6 .8 1.1 .7 1.2 .7 3.4 .8-2.8 .7 .1 .8-3.1 .7 4.4 .8-1.3 .7-1.3 .8 2 .7-2.4 .7-2.8 .8 .8 .7 6.7 .8-2.9 .7-.1 .8 6.3 .7-9.3 .8 1.4 .7-1 .7-3.7 .8-2.8 .7-2 .8 4.5 .7-6.1 .8 11.8 .7 1.8 .8 1.1 .7-3.5 .7 1.7 .8-3.1 .7-2.9 .8 10.6 .7-4.5 .8-.4 .7 2.2 .8-5.8 .7 1.2 .7 6.6 .8-3 .7 4.4 .8-4.8 .7 3.9 .8-4.7 .7 .6 .8-1.5 .7 2.4 .7-1.8 .8-2.6 .7 .5 .8 4.3 .7-4.6 .8 1.8 .7-2 .8 3.8 .7-1.8 .7 4.4 .8-3 .7 1.6 .8-4.9 .7 4.5 .8-7.8 .7 8.5 .8-2.4 .7 2.5 .7-7.4 .8 4.3 .7-4.5 .8 3.7 .7-.8 .8-1.4 .7-2.1 .8 5.3 .7-2.6 .7-14.6 .8-20 .7-.3 .8 9.5 .7 5.3 .8 17.1 .7 1.4 .8 3.7 .7-.4 .7-1.8 .8 2.9 .7-5.7 .8 3.3 .7-8.1 .8 3.4 .7 2.4 .8 3 .7 3 .7-3.9 .8 2.6 .7-1.5 .8 2.3 .7 2.4 .8 2.3 .7-2.9 .8 0 .7-5.3 .7 4 .8-2.6 .7 1.1 .8 3.8 .7-3.4 .8-1 .7-1.5 .8 2.5 .7 0 .7 4.2 .8-5.7 .7 4.1 .8 2.1 .7-5.4 .8-4.2 .7 4.2 .8 5.3 .7-4.6 .7 .8 .8 2.1 .7-6 .8-8.9 .7 12.6 .8-6.8 .7 6.1 .8 1.5 .7-.1 .7-5 .8 6.8 .7-3.4 .8-6.4 .7 5.2 .8-.3 .7 3.4 .8-5.3 .7-.6 .7 5.7 .8 3.1 .7-2.8 .8-2.9 .7 .8 .8 .6 .7 .5 .8 2.5 .7-4.8 .7 5.8 .8 1.2 .7-4.2 .8 5.6 .7-5.2 .8-.1 .7 4.7 .8-7.5 .7 7.3 .8-7.7 .7 2.9 .7 1.9 .8-3.2 .7 .3 .8-3 .7 3.3 .8 2.1 .7-2.6 .8 2.4 .7-4.2 .7 .3 .8-7.1 .7-7.1 .8-25.7 .7-13 .8 5.6 .7 2.6 .8 19.1 .7 11 .7 8.3 .8 4.7 .7 2 .8-3 .7 0 .8-9.9 .7-11.7 .8-16.2 .7-10 .7 11.3 .8 3.4 .7 11.5 .8 13.2 .7 5.1 .8 9.2 .7 .5 .8-8.9 .7 7.5 .7-2.8 .8-1.1 .7-3.9 .8 3.4 .7 .1 .8 2.7 .7-3.1 .8-.1 .7 2.9 .7-2.4 .8 2.1 .7 5.4 .8-3.8 .7 .9 .8 3.8 .7 .6 .8-5.4 .7-.3 .7 .7 .8-2.1 .7 4.2 .8-2 .7-.3 .8 .2 .7-1.6 .8 3.2 .7-5.7 .7 2.2 .8-3.5 .7 1.4 .8 .6 .7 2.6 .8-.6 .7 5.2 .8-3.3 .7-1.3 .7-.2 .8-1.8 .7 3.3 .8 2.2 .7 1.4 .8 .9 .7-5.9 .8-1.6 .7 4.3 .7-1.2 .8 .8 .7 2.2 .8-1.1 .7-1 .8-1.1 .7-3.7 .8 4.3 .7-2.1 .7 1.5 .8-1.5 .7 3.9 .8-6 .7 3.2 .8 0 .7 2.7 .8 0 .7-.7 .7-4.6 .8-1.4 .7 5.1 .8-1.7 .7 2.8 .8-1.4 .7-1.7 .8 .2 .7 1.5 .7-2.4 .8 2.4 .7-4 .8 1 .7 4 .8-2.8 .7 1.1 .8-2.7 .7-.6 .7 2.6 .8-1.3 .7 2.8 .8-2.8 .7 1.1 .8 2.4 .7-4.7 .8 4.4 .7-1.6 .7-1.3 .8 2.2 .7 3.4 .8-4.9 .7 0 .8 .5 .7-3 .8 0 .7 1.5 .7 2.2 .8 2.9 .7-5.2 .8-.5 .7 2.6 .8-2 .7 3.4 .8-1.1 .7-1.4 .7 .9 .8-1.1 .7-2.9 .8 .9 .7 2 .8 2 .7-.6 .8 3.9 .7-1.5 .7-1.1 .8-1.4 .7-1.1 .8-2.6 .7-3.2 .8 1.3 .7 6.8 .8 .4 .7-5.4 .7 .3 .8 5.8 .7-5.1 .8 4.1 .7-4.3 .8-4.6 .7 6.9 .8-5.5 .7 5.3 .7-2.1 .8 1.4 .7-3 .8 1.6 .7 .5 .8-4.9 .7 4.4 .8-2.3 .7 1.8 .7-16.3 .8-39.1 .7-3.9 .8 30.6 .7-.8 .8-3 .7 22.3 .8 7.6 .7-2.3 .8 5.8 .7-.2 .7-3.7 .8 4 .7-3.8 .8 2.7 .7-1.5 .8 4.9 .7-4.6 .8-1.3 .7 2.2 .7-1.3 .8-.3 .7 .9 .8-3.3 .7-3.4 .8-4.2 .7-9.8 .8-24.1 .7-13.5 .7-19.8 .8-14.8 .7-.3 .8 5.7 .7 10.3 .8 14 .7 19.6 .8 11.1 .7 15.2 .7 2 .8 14.1 .7-5.6 .8 5.6 .7-2.4 .8 4.4 .7-4.5 .8 5.2 .7-.1 .7 2.2 .8 .5 .7-8 .8 7.7 .7 .5 .8-5.4 .7-.6 .8 5.9 .7-4.7 .7-1.6 .8-1.1 .7 3.3 .8 .8 .7 5.2 .8-3.3 .7 2.9 .8-4.3 .7-1.1 .7 2.5 .8 .1 .7-2.7 .8 1.4 .7 .4 .8 1.8 .7-1.9 .8 .5 .7-3.1 .7-.5 .8 4 .7-3 .8 1.8 .7-6.6 .8 6.7 .7-2.6 .8-6.7 .7 3.6 .7-5.4 .8 6.8 .7-3.4 .8 6.7 .7-6.2 .8 6.1 .7-2.3 .8 4 .7-1 .7-4.3 .8 5.2 .7 2.1 .8-3.6 .7 .6 .8-2.1 .7 1.8 .8-3.3 .7-3.3 .7-3.3 .8-28.8 .7-16.3 .8 30.3 .7 6 .8-12.2 .7 8.3 .8 13.9 .7 4.8 .7-1 .8 3 .7-5.2 .8 7.4 .7-3.6 .8 1.5 .7-.9 .8 2.2 .7-4.1 .7 3.4 .8-5 .7 7.4 .8-5 .7 2.1 .8-1.2 .7-5.3 .8 5.7 .7-5 .7-1.8 .8 .3 .7 2 .8-8.5 .7 4.5 .8-2.2 .7-15 .8-9.9 .7-20.6 .7-34.3 .8-34.9 .7-47.1 .8-41.7 .7-31.7 .8-3.4 .7 15 .8 27.8 .7 31.9 .7 36.6 .8 42.7 .7 25.4 .8 23.1 .7 19.7 .8 8.8 .7 4.2 .8 1.8 .7 2.9 .7 3.5 .8-2.4 .7 4.9 .8-.1 .7 .2 .8-.6 .7 5.1 .8-3.2 .7-2.7 .7 .8 .8 1.7 .7 2.3 .8-3 .7 2.5 .8-2.3 .7-2.5 .8 3.7 .7 1.9 .7 1.5 .8-5 .7-2.2 .8 7.3 .7-5.5 .8 3 .7 2.2 .8-2.1 .7 2.4 .7-4.7 .8 2.2 .7 2.2 .8-2.2 .7-2.9 .8 5.6 .7-3.2 .8 2.7 .7-.1 .7-2.8 .8 3.7 .7-1.3 .8 3.8 .7-10.3 .8 3.8 .7 4.5 .8-4.5 .7 5.8 .7-7.5 .8 2.2 .7 .6 .8-.6 .7-1.3 .8-5.1 .7-3 .8 4.8 .7 3.6 .7-.6 .8-1.2 .7 1.3 .8 1.2 .7-4 .8 5.2 .7-3 .8 3.8 .7-4.6 .8 4.5 .7-4.1 .7 2.3 .8 .1 .7-1.2 .8 4.1 .7-1.5 .8 1.2 .7 1.3 .8 .3 .7-.9 .7-1.4 .8-2.3 .7 6.2 .8-7 .7 .7 .8 3.4 .7 2 .8-4.9 .7 3.4 .7-2.9 .8 2.5 .7 2 .8-.7 .7-2.3 .8 .5 .7 1.8 .8-3 .7-1.6 .7-.5 .8-2.9 .7 7.9 .8-6.5 .7 6.6 .8-5.6 .7-3.4 .8 4 .7 1.1 .7 2.1 .8-.4 .7-1.8 .8-2.2 .7 3 .8-2.2 .7-.3 .8 2.7 .7 1.7 .7 4.2 .8-7.8 .7-.7 .8-.8 .7 .1 .8 2.4 .7 2.2 .8-1.8 .7 4.3 .7-.2 .8-6.1 .7 0 .8 1.1 .7 2.1 .8-2.3 .7-1 .8 2.9 .7 3.6 .7-1.8 .8-3.5 .7 1.2 .8 1.2 .7-4.9 .8 2.7 .7 3.6 .8 .5 .7-3.8 .7 .4 .8 .5 .7-3.2 .8 10.6 .7-6.7 .8 .3 .7 5.4 .8-5.5 .7 2.8 .7-3.2 .8-5.9 .7-2.5 .8-3.5 .7-1.3 .8 9.7 .7-4.7 .8-1.2 .7 2.5 .7 7.9 .8-.1 .7-4.2 .8 6.6 .7-5.4 .8 3.6 .7-1.4 .8 2.1 .7 .9 .7-7.7 .8 1.4 .7 2.7 .8 .3 .7-1.9 .8 2 .7 .6 .8-.1 .7 .1 .7-.2 .8 1.6 .7-2.6 .8-2.2 .7 5.5 .8-.4 .7 .9 .8 1.1 .7-2 .7-2.7 .8 0 .7-5.4 .8 3.1 .7 .3 .8-2.3 .7 9.6 .8-7 .7 2.2 .7-.4 .8-.1 .7 2.4 .8-3.7 .7-.8 .8 3.2 .7-2.8 .8-4.4 .7 3.4 .7-.1 .8-4.4 .7 .6 .8-4.9 .7-4.7 .8-9.2 .7 2.3 .8-1.1 .7 6.1 .7-3.2 .8 5.5 .7 2.7 .8 3.3 .7 4.2 .8 1.5 .7-2.7 .8 6.3 .7 1.6 .7 1 .8-5.5 .7 2.6 .8 5.1 .7 .4 .8-1.4 .7-1.5 .8-5.5 .7 4.3 .7-1.8 .8-1.7 .7-12 .8-2.8 .7 16.5 .8-.5 .7-8.3 .8 .4 .7 3.9 .7 1 .8 5.4 .7-2.1 .8 3.4 .7-1.5 .8-4.1 .7-21.8 .8 2.4 .7 15.9 .7 8 .8-12.8 .7 .5 .8 12 .7 1.5 .8 .5 .7-3.8 .8 1.1 .7 1 .8-3.4 .7 3.4 .7 3.8 .8-7 .7 8.6 .8-4.1 .7 .8 .8 .5 .7-4.6 .8 .1 .7 2.9 .7 .6 .8-3.1 .7 2.5 .8 2.8 .7-7.2 .8 7 .7 2.2 .8-3.7 .7-2.1 .7 5 .8-1.8 .7-1.3 .8 2.9 .7-.1 .8-6.7 .7 5.3 .8-4.4 .7 3 .7-2.8 .8 .1 .7 .6 .8 1.9 .7 1.2 .8-.8 .7-1.5 .8 3.4 .7-.9 .7-1.5 .8 4.8 .7-4.2 .8-2.1 .7 4.7 .8-3.8 .7-3.7 .8 2.5 .7 3.5 .7-.8 .8 4.8 .7-9.6 .8 7 .7-9 .8 2.6 .7 9.2 .8-3.3 .7-5.1 .7-.2 .8 1.4 .7-1.7 .8 3.5 .7-1.4 .8-4.4 .7 3.2 .8-2.1 .7 5.1 .7-2.2 .8-2 .7 .7 .8-3.7 .7 7.5 .8-.1 .7-3.4 .8 1.6 .7-3.1 .7 1.4 .8 .7 .7-.1 .8 3.7 .7-.6 .8-4.7 .7-2.9 .8 6.7 .7 3.9 .7-6.5 .8 .7 .7-2 .8 6.2 .7-5.8 .8 .6 .7-.6 .8 1.6 .7-5.2 .7 6.5 .8 2.2 .7-4.4 .8 .6 .7-.9 .8 .8 .7-1.1 .8 1.5 .7 6.9 .7-6.7 .8 3.7 .7 3.7 .8-4.4 .7-1.4 .8-1.2 .7-.8 .8-.2 .7-.2 .7-.3 .8 2.5 .7-1.7 .8-3 .7-.2 .8 3.2 .7-1.2 .8 4.3 .7-3.4 .7 1.4 .8-4.9 .7 3.4 .8 0 .7-1.8 .8 .9 .7-3.6 .8 3.5 .7-4.2 .7 .5 .8 6.7 .7 3.7 .8-6.8 .7-2 .8 3.3 .7 .2 .8 4.3 .7-10.4 .7 5 .8 3.6 .7-7.8 .8 6.2 .7 3.2 .8-.4 .7-.3 .8-3.4 .7-2.5 .7 .2 .8 .7 .7 4.8 .8-8.4 .7 6.8 .8 1.1 .7-6.2 .8 .5 .7 8.4 .7-7.1 .8-2.3 .7 3.5 .8 1.2 .7-1.5 .8-7.8 .7 8.2 .8 0 .7-3.3 .7-.6 .8-2.1 .7 3.7 .8 4.2 .7 0 .8-.4 .7-.2 .8 .5 .7-1.6 .7-4.1 .8 4.3 .7-4.5 .8 1 .7 4.9 .8-8.1 .7 10.9 .8-4.5 .7-4.1 .7 2.9 .8-1 .7 2.8 .8 3.4 .7-3.1 .8-1.8 .7 .5 .8 3.9 .7-4.9 .7 1.3 .8 3 .7-6.6 .8 3.6 .7-.3 .8-6.7 .7-7.2 .8 6.1 .7 5.2 .7-1.9 .8 1.2 .7-4.1 .8 3.1 .7 4.4 .8-2 .7 .5 .8 1 .7-.1 .8-.9 .7 .5 .7-1.1 .8-6.3 .7 7.9 .8-8.8 .7 12.7 .8-9.3 .7 5.5 .8-1.8 .7 .7 .7 .1 .8 .1 .7-.5 .8 1.5 .7-1.9 .8 2.4 .7-3.4 .8 2.7 .7-2.1 .7 2.2 .8-1.5 .7-.5 .8 1.3 .7 1.3 .8-2.6 .7 6.5 .8-2.4 .7-7.9 .7 .6 .8 4.8 .7-1.7 .8-3.3 .7-3 .8 6.9 .7-3.2 .8-6.3 .7-4.7 .7 1.8 .8-2.6 .7-.1 .8-8.7 .7 1.2 .8-.8 .7 5.2 .8-5.4 .7 8.6 .7 8.7 .8-4.5 .7 1.4 .8 2.6 .7-.8 .8 1.7 .7 4.3 .8 2.7 .7-2.9 .7 .8 .8 1.9 .7-2.9 .8-4.5 .7 7.2 .8-.1 .7-2.3 .8 .3 .7 4.3 .7 .4 .8 1 .7-8.9 .8 4.9 .7 5.5 .8-3.5 .7-5.7 .8 1.5 .7 4.9 .7 .2 .8-3.8 .7 .5 .8-4.1 .7 10.6 .8-5.5 .7 1.9 .8-.6 .7-4 .7 9.9 .8-5.7 .7 1.4 .8 .2 .7 .1 .8-1.2 .7-.3 .8-1.7 .7 2.8 .7-3.8 .8 2.6 .7-4.2 .8 1.9 .7 2.2 .8-.7 .7-5 .8 2.4 .7 3.2 .7-1.5 .8 2.6 .7-2 .8-.5 .7-2.1 .8 .2 .7 1.8 .8-2.7 .7 1.5 .7 8.4 .8-10.5 .7 3.8 .8-2.8 .7 4.7 .8-5.5 .7-.6 .8 1.3 .7-.7 .7 3.3 .8-3.2 .7-1.9 .8-2.7 .7-4.6 .8 5.2 .7-4.9 .8-2.4 .7 1.2 .7-1.6 .8 .2 .7-3.4 .8-.9 .7-1.9 .8 6.3 .7 .9 .8 2.5 .7-.1 .7-.4 .8 1.4 .7 .9 .8 5.8 .7-.2 .8-.2 .7-2.1 .8 .8 .7 3.7 .7-3.8 .8 6.1 .7-2.2 .8 1.7 .7-2 .8 0 .7 1.5 .8-1.6 .7 1.1 .7-.3 .8 2.1 .7-3.1 .8 5.8 .7-5.6 .8-7.5 .7 7.7 .8-1.6 .7 3.6 .7 2.7 .8 .4 .7-2.6 .8 3.2 .7-7.2 .8 1.7 .7 .6 .8 .5 .7-4.4 .7 .2 .8 5.4 .7-1.2 .8 2.9 .7-6.5 .8 4.4 .7-3.4 .8 3.2 .7 .4 .7-3.8 .8 5.5 .7-1.4 .8 .2 .7 .2 .8-1.4 .7 3.4 .8-5.1 .7 3.8 .8-3.7 .7 2 .7-1.6 .8 4.1 .7-6.4 .8 .3 .7 1.9 .8 1.4 .7 2.8 .8 .2 .7-1.6 .7 .7 .8 .1 .7-2.4 .8 1.9 .7-3.3 .8-1.2 .7-.1 .8 2.5 .7-1.8 .7 .2 .8 1.9 .7-2.4 .8 3 .7 3.1 .8-4.9 .7 1.8 .8-3.5 .7 5.7 .7-6.1 .8-.6 .7 1.2 .8-.3 .7 4.1 .8-7.9 .7 8.4 .8-2 .7 2.3 .7-3.5 .8 .1 .7 2.9 .8-1.7 .7 2.1 .8-3.7 .7 3.2 .8-1.3 .7-1 .7 .4 .8-.2 .7 1.5 .8-1.6 .7-.9 .8-2.7 .7 2.4 .8-2.1 .7-.3 .7 4 .8-3.7 .7 .5 .8 3.6 .7-.6 .8-5.3 .7 3.5 .8-1.9 .7 3.2 .7-3.8 .8 2.9 .7 2.3 .8 2.1 .7-5.4 .8-2.4 .7 5.3 .8 1.4 .7-5.3 .7 4.1 .8 3.8 .7-2 .8 .2 .7 .3 .8-5.8 .7-.6 .8-1.4 .7 9.5 .7-12.9 .8 10.8 .7-5.4 .8-1.5 .7 .9 .8 .4 .7 5.2 .8-1.9 .7-.1 .7-4.5 .8 1.1 .7 4.7 .8-1.4 .7 1.7 .8-5.1 .7 1 .8 4.3 .7-2.5 .7 .6 .8-.6 .7 1.3 .8-1.5 .7 .8 .8 1.5 .7 1.7 .8-8.5 .7 8.7 .7-9 .8 8.6 .7-4.5 .8-2.5 .7 2.9 .8-6.8 .7 6 .8-1.6 .7 2.5 .7-2.2 .8-.1 .7-1.7 .8 4.6 .7-1 .8-4.5 .7 3 .8-2.2 .7 2.2 .7 1.1 .8-3.7 .7-3.1 .8 .5 .7 .1 .8 1.8 .7-6.6 .8 6.9 .7-8.6 .7 2.9 .8 4.8 .7 1.8 .8-7 .7 6.2 .8-3.5 .7-2.8 .8 3.1 .7-.7 .7-1.3 .8 4.8 .7-4.8 .8 5.5 .7-4.1 .8 .4 .7 3.3 .8-3 .7 2.6 .7-2.6 .8 5.1 .7-.2 .8-1.5 .7 .8 .8 3.8 .7-5.4 .8 5.6 .7-.8 .7 2.5 .8-1.6 .7-5 .8 5.6 .7-2.7 .8 1.3 .7-.8 .8-4.1 .7 1.5 .7 5.2 .8-.4 .7 3.2 .8-5.5 .7-.2 .8-2.4 .7 8.3 .8-5 .7 3.7 .7-6.6 .8 8.2 .7-3.4 .8-.5 .7 0 .8-1.7 .7-.8 .8-1.1 .7 6.6 .7-2.3 .8 0 .7 .8 .8 .2 .7-.8 .8-3 .7 5.9 .8-.8 .7-2.5 .7-5.4 .8 5.2 .7 .7 .8-4.9 .7 2.8 .8 2.1 .7-5 .8 4.5 .7 1.6 .8-1.3 .7-6.2 .7 7.8 .8-6.5 .7 1.2 .8 4.7 .7-1.8 .8-1.2 .7-1.8 .8 1.6 .7-2.4 .7 3 .8 .7 .7-1.7 .8 1.4 .7-1.5 .8 .3 .7 2 .8-3.5 .7 3.4 .7-.6 .8 6.5 .7-7 .8 1 .7-3.5 .8 9.6 .7-6.6 .8-2.8 .7 3.2 .7-.1 .8-.6 .7-2.1 .8 1.9 .7 4.2 .8-6.4 .7 6.3 .8-3.8 .7-2.9 .7 4.4 .8 2.5 .7-4.7 .8-.4 .7 4.7 .8 .5 .7-4.5 .8 .1 .7-5.9 .7 6.5 .8-6.2 .7 1.1 .8 2.8 .7 .3 .8 .3 .7-1.5 .8 3.6 .7-.9 .7-1.3 .8-.8 .7 1.3 .8 1.5 .7-1.7 .8 1.5 .7 .7 .8 3.2 .7-4 .7-4.5 .8 2.1 .7 4.8 .8-9.5 .7 .2 .8 4.9 .7 4.2 .8-.2 .7 1.5 .7-6.6 .8 4.4 .7-.8 .8 2.2 .7-2.1 .8 1.5 .7 1.1 .8-.9 .7-6.2 .7 2.6 .8-1.1 .7 1.4 .8 0 .7 4.2 .8-2.4 .7-4.5 .8 5.4 .7 .3" fill="none" stroke="#0000ff" stroke-width="2.0" stroke-linejoin="round" stroke-linecap="round"/>
<path d="M231.3 1118.1l.7-3.6 .8 6.8 .7-3.5 .8-.7 .7-1.3 .8 5.2 .7-5.5 .8 4.7 .7-3.2 .7 1.6 .8-.7 .7 2.3 .8 .4 .7-4.8 .8 5.7 .7-.8 .8 .8 .7 1.3 .7-8.1 .8 9 .7-9.3 .8 2.6 .7 2.7 .8 1.9 .7-1.1 .8-.7 .7 .5 .7-4.4 .8 3 .7 6.7 .8-13.4 .7 6.1 .8 .4 .7-2.1 .8 2 .7 .7 .7-1 .8 .5 .7-2.7 .8 4.5 .7-3.3 .8-1.2 .7 8.7 .8-7.2 .7 .2 .7-3.9 .8 6.3 .7-3.9 .8 1 .7 3.9 .8-.5 .7-3.4 .8 3.5 .7-.4 .7-1.5 .8-2.1 .7 3.8 .8-5.4 .7 5.2 .8-1 .7-3.3 .8 .4 .7 9.7 .7-12.3 .8 5.8 .7-1.1 .8 2.2 .7-.4 .8 1.7 .7-.5 .8-2 .7-3.8 .7 3 .8 2.2 .7 0 .8 1.7 .7-3.5 .8-2.8 .7 1.6 .8 2.2 .7 1.8 .7 0 .8-.7 .7-5.6 .8 2.2 .7 2.5 .8-.6 .7 1.3 .8-5.7 .7 4.9 .7-9.2 .8 6 .7 1.5 .8-1.3 .7 3.2 .8-3 .7 .6 .8 1.7 .7-4.3 .8 6.3 .7-5.9 .7 3.3 .8-1.1 .7-1.9 .8 1.4 .7 .4 .8-2.2 .7 7.1 .8-8.8 .7 2.6 .7 2.9 .8-1.8 .7 1.3 .8-7.3 .7 3.3 .8 .3 .7 2.8 .8-6.4 .7 0 .7-1.8 .8-20.3 .7-13.5 .8 7.2 .7 19.6 .8-.1 .7 4.1 .8-2.3 .7-8.8 .7-24.6 .8-37.3 .7-1.5 .8 22.3 .7 38.8 .8 6.8 .7 7 .8-7.3 .7-2.1 .7 1 .8 10 .7 5 .8-5.5 .7 5.3 .8 .9 .7 1.7 .8-5 .7 5.6 .7-7.2 .8 3.8 .7-1.9 .8 .5 .7 3.6 .8-1.5 .7 6.3 .8-8.2 .7-1.9 .7 5.2 .8-2.6 .7-2 .8 4.6 .7 .3 .8-8.1 .7 2.8 .8 4.1 .7-5.4 .7 6.5 .8-5.1 .7 1.3 .8-.8 .7-3.7 .8 2.4 .7-1.7 .8 .5 .7 3.8 .7-1.4 .8-2.8 .7 1 .8 2.9 .7-5 .8-2.1 .7 .7 .8-10.2 .7-19.8 .7-23.1 .8-31.7 .7 15.4 .8 31.8 .7 21.2 .8 16.3 .7 3.6 .8-2.9 .7-4.8 .7 5.6 .8-5.6 .7 6.4 .8 .8 .7-1.5 .8 2.6 .7-3.1 .8-3.1 .7 1.2 .7 4.1 .8-9.2 .7 6.5 .8-4.3 .7 9.6 .8-10.7 .7-2.3 .8 8.7 .7-.3 .7-4.7 .8 1.4 .7-3.5 .8 3.1 .7 2.7 .8-1.5 .7-1.1 .8-1.5 .7 4.7 .7 2 .8-1 .7-7.6 .8 4.1 .7-2.8 .8 1.3 .7 2.1 .8 6.3 .7-6.7 .7-.8 .8-1.5 .7 3 .8-6.3 .7 6.5 .8 .4 .7-5.1 .8 7 .7 1.8 .7-8.6 .8 4.4 .7-3.7 .8-.6 .7 4.2 .8-1.5 .7-4.6 .8-.7 .7 4.7 .7-4.6 .8 .3 .7 2.8 .8-.7 .7 2.4 .8 4.4 .7-9.2 .8 7.7 .7-8.1 .7 3.9 .8 2.8 .7 3.7 .8-11.5 .7 9.4 .8-5.1 .7 .7 .8 1 .7 3.7 .7 1.4 .8-5.7 .7-2.9 .8-.6 .7-4.1 .8 1.7 .7 7.3 .8-7.9 .7 1.3 .7 1.7 .8-.4 .7-.6 .8-.4 .7 1.1 .8 5.7 .7-2.2 .8-1.6 .7-2.5 .7 2.3 .8 .4 .7-3.3 .8-.9 .7 3.9 .8-2.9 .7-.2 .8 2 .7-.2 .7-2.6 .8 7.2 .7-3.7 .8-1.5 .7 2.5 .8 1.8 .7-3.9 .8-7.3 .7 3.6 .7 3.2 .8 .6 .7 3.5 .8-2.5 .7-2.2 .8 3 .7-4.1 .8 4.5 .7-7.2 .8 8.7 .7-4.8 .7 2.8 .8-3.1 .7-3.3 .8 3.3 .7 .7 .8 .4 .7-.3 .8 .7 .7-2.8 .7-3.3 .8 3.3 .7-3.1 .8 2 .7-2.3 .8-1 .7-1.6 .8 4.9 .7 1.8 .7 1.6 .8-.3 .7 1.2 .8 .6 .7-2.3 .8-6.4 .7 4.3 .8 6.2 .7-10.5 .7 6.3 .8-2 .7 5.8 .8-3.1 .7-1.9 .8 .8 .7-4.8 .8 10.2 .7-3.6 .7-4.6 .8 .8 .7 3 .8-3.6 .7-.6 .8 4.4 .7-3.2 .8 .5 .7-1.6 .7-14.4 .8-11.3 .7-11.8 .8 2.4 .7 14.3 .8 15.5 .7 5.4 .8-1.4 .7 1.8 .7 .4 .8-.3 .7 2 .8 3.1 .7 .6 .8-8.3 .7 .1 .8-5.2 .7-3.3 .7-4.2 .8 5.4 .7 2.6 .8 .1 .7 8.6 .8-3.7 .7 3.1 .8 1.5 .7-2.4 .7-1 .8 3.1 .7 1.3 .8-2.6 .7 5.3 .8-2.9 .7-3.5 .8 3.5 .7-2.9 .7 2.1 .8 .6 .7-.5 .8 2.9 .7-3.8 .8 .8 .7-2.2 .8-3.3 .7 2.5 .7 1.8 .8-7.4 .7 7.9 .8 .1 .7 2 .8-2.1 .7 2 .8-3.1 .7-1.2 .7 2.6 .8-4.3 .7 6.4 .8-6.9 .7 7.2 .8-5.6 .7 .2 .8-1.7 .7 2.3 .7 .9 .8-4.5 .7-.8 .8 4.7 .7-4 .8 5.7 .7 1.5 .8-4.7 .7 10.1 .7-8.8 .8-3 .7 8 .8-3.8 .7-2.8 .8 1.2 .7 4 .8 .5 .7-4.5 .7-3 .8 1.4 .7 3.3 .8-1.8 .7 .7 .8 0 .7 3.3 .8-5.4 .7 .5 .7-5.5 .8 5.2 .7-4.5 .8 2.5 .7 2.2 .8-2.1 .7 1.1 .8-6 .7 4.7 .7 1.3 .8-.9 .7 .6 .8-3.8 .7 2.9 .8-4.9 .7-1.6 .8-2.3 .7-16.5 .7-44.2 .8-61.9 .7-11.9 .8 26.2 .7 42.4 .8 34.7 .7-.3 .8-46.1 .7-75 .7-61.4 .8 15.8 .7 56.6 .8 69.8 .7 37.9 .8 15.6 .7-.6 .8-20.6 .7-24.2 .7-62.9 .8-87.1 .7-69.9 .8-8.8 .7 60.4 .8 81.3 .7 72.9 .8 39.6 .7 25.2 .7 10.7 .8 4.4 .7 2 .8 3.4 .7-2.2 .8 .1 .7 1.2 .8-1.5 .7-.9 .8-2.3 .7-5.2 .7-2.6 .8 3.6 .7 9.3 .8 2.9 .7 .8 .8-8.2 .7 9.3 .8 5.3 .7-7.9 .7-1 .8 2.8 .7-6.6 .8-4.7 .7-4.3 .8-29.8 .7-33.4 .8-33 .7 4.7 .7 22.6 .8 36 .7 23.6 .8 13.1 .7 4.7 .8 1.5 .7 4.6 .8-2.3 .7-3.1 .7-10.8 .8-.3 .7-6.9 .8 11.4 .7 5.4 .8 4 .7 1.3 .8 2.6 .7-.8 .7-1.1 .8 5 .7 .6 .8-3.8 .7-2.6 .8 2.4 .7 .5 .8-.7 .7-3.2 .7 1.1 .8 4.1 .7 5.1 .8-9 .7 4.4 .8-1.3 .7 1.8 .8-.6 .7 2.9 .7-2.9 .8-2 .7 2.4 .8-.3 .7 2 .8-.7 .7 .1 .8-1.6 .7-.5 .7-.3 .8 1.3 .7 2.7 .8 .8 .7-5.8 .8 1.1 .7 .3 .8 4.9 .7-7.9 .7-.3 .8-13.9 .7 6.4 .8 .1 .7 4.5 .8 6.7 .7-4.6 .8-2.2 .7 7.6 .7-2.8 .8 3.2 .7 2.7 .8-6.8 .7-.8 .8 1.2 .7-2.4 .8 2.5 .7 5.2 .7-5.2 .8-1.9 .7 5.2 .8 .4 .7-7.2 .8 6 .7-1.7 .8 2.5 .7-3.3 .7 1 .8-1.9 .7 9.2 .8-4.5 .7 .5 .8 0 .7-1.7 .8 3.3 .7-2.1 .7 5.7 .8-4.7 .7 1.9 .8-8.1 .7 2.2 .8 .2 .7-2.9 .8 2.6 .7 .1 .7-1.9 .8 5.3 .7-3.9 .8 1.8 .7-4.7 .8 3.3 .7-1.9 .8-.9 .7 1.7 .7-11.6 .8-17.4 .7 1 .8 10.8 .7 1.5 .8 9.4 .7 8.4 .8 0 .7-4.5 .7-2.4 .8-2 .7-3.8 .8-.7 .7 3.7 .8-.4 .7 2.2 .8 1.6 .7 5.3 .7-2.3 .8 3.6 .7-3.7 .8 2.4 .7 1.9 .8-2.4 .7 2.5 .8-.4 .7-1.5 .7 3.1 .8-1.1 .7-1.8 .8 1.6 .7 2 .8-5.1 .7-.6 .8 5.7 .7-5.1 .7 1.1 .8-4.5 .7 5.2 .8 1.4 .7-4.5 .8 4.8 .7-4.5 .8 2.4 .7 4.3 .7 1.1 .8-4.6 .7 3.8 .8-5.2 .7 4.3 .8-6.8 .7 5.5 .8-1.9 .7-2.1 .7 2.2 .8-.3 .7 .5 .8 2.2 .7-3.9 .8 0 .7 2 .8-1.4 .7 1.3 .7-3.2 .8 5.5 .7-4.8 .8 5.1 .7-.2 .8-4.2 .7 3.7 .8 1.9 .7-4.3 .7 1.8 .8-3.6 .7 5.3 .8-2.3 .7 3.7 .8-1.7 .7-2.6 .8-2.4 .7 4.8 .8 .6 .7-4 .7 3.4 .8-1.5 .7-2 .8-1.4 .7 1.7 .8 2.6 .7-5.5 .8 1.9 .7-.7 .7-2.9 .8-3.9 .7-4 .8-12 .7-19.7 .8-9 .7 8.4 .8 7.6 .7 12.7 .7 6.5 .8 10.4 .7-3.8 .8-2.7 .7-16 .8-13.6 .7-.6 .8 8.5 .7 8.4 .7 11.7 .8 2.6 .7 6.8 .8 3.6 .7-4.1 .8 5 .7 2.7 .8-2.9 .7 1.6 .7-1.9 .8 .5 .7-4.1 .8 4.5 .7-.3 .8-.9 .7 5.3 .8-2.4 .7-.7 .7-4.5 .8 3 .7 4.6 .8 2.5 .7-5.5 .8 3.7 .7-4.1 .8 1.2 .7-1 .7 .7 .8-.2 .7 2.1 .8-4 .7 7.6 .8-2.6 .7-6.9 .8 1.1 .7 10 .7-8.8 .8 4.4 .7-4.3 .8 11 .7-12.5 .8 8.8 .7-3.4 .8-2.2 .7 .1 .7-1.6 .8-3.2 .7 7.2 .8 3.8 .7-6.1 .8 2.1 .7 1.2 .8-6.4 .7 2.6 .7-2.9 .8 6 .7-4.6 .8 6.8 .7-1.4 .8-5.1 .7 3.7 .8-.6 .7-2.2 .7 1.1 .8 .7 .7-5.2 .8 8.2 .7-5 .8-.4 .7 3.9 .8-4.4 .7 7.1 .7-1.3 .8-3 .7 3.7 .8 .5 .7-5.3 .8-4 .7 .8 .8 2.4 .7 4.1 .7-.5 .8-1.8 .7 5.6 .8-6 .7 2.5 .8-5 .7 1.3 .8 1.9 .7 2.6 .7-9.1 .8 9.8 .7-6.5 .8 5.7 .7-3.3 .8-3.3 .7 1.4 .8 8 .7-6.1 .7-.9 .8-2.8 .7 1.1 .8 6.4 .7 .7 .8 1.3 .7-4.1 .8-2.6 .7-1.9 .7 6.9 .8-5.2 .7-2.4 .8 2.7 .7 .6 .8 3.4 .7-3.6 .8 4.2 .7-1.4 .7-1.8 .8-6.9 .7 .3 .8 6.1 .7 1.8 .8 2.8 .7-9.4 .8 6.5 .7-.2 .7 1.1 .8-2.3 .7-1 .8 .4 .7 1.1 .8 2 .7-5.4 .8 .8 .7-.9 .7 2.4 .8-7.2 .7 10.9 .8-3.6 .7-3.2 .8 2.1 .7-.4 .8-.8 .7 1.3 .7 7.4 .8 .8 .7-13.6 .8 5.9 .7 .2 .8-4.3 .7 2.2 .8-.4 .7 .2 .7-5.3 .8-1.6 .7-7.9 .8-37.4 .7-4.2 .8 30.4 .7-7.8 .8 5.8 .7 16.7 .8 11.6 .7-1.6 .7 2.9 .8-3.6 .7 6.1 .8-4 .7 1 .8-3.4 .7 6.1 .8-1.5 .7 1.5 .7-7.2 .8 3.6 .7-2.6 .8-1.9 .7-.3 .8-6.2 .7-1.9 .8-16.6 .7-12.7 .7-15.5 .8-10.5 .7-13.2 .8-2.1 .7 12 .8 13.3 .7 8.4 .8 16.2 .7 9.2 .7 10.2 .8 6.1 .7-3.1 .8 12 .7-3.9 .8 3.8 .7 .3 .8-5 .7 7.6 .7-5.3 .8-1.2 .7 4.1 .8 4.9 .7-1.7 .8-10.8 .7 5.6 .8 1.4 .7-1.7 .7-1.1 .8 1 .7-1.4 .8 7.3 .7-3.7 .8-3.4 .7 3.5 .8 3.6 .7-5.1 .7 4.2 .8-6.6 .7 2.4 .8 8.4 .7-7.1 .8-3.8 .7 7.8 .8-4.8 .7 3.6 .7-3.1 .8-4.2 .7 9.3 .8-5 .7-4.3 .8 7.9 .7-3.1 .8 6 .7-3.1 .7-2.5 .8-5.6 .7 0 .8 4.1 .7-3.9 .8 4.6 .7 2.6 .8-1.6 .7 2.7 .7-1.5 .8-1.5 .7-2.4 .8-1.2 .7 1.2 .8 .7 .7 3.2 .8-4.6 .7-2.4 .7-1.3 .8-3.1 .7-13.9 .8-31.3 .7-7.1 .8 32.9 .7 1.1 .8-11.7 .7 17.5 .7 11.6 .8 7.2 .7 2.4 .8 1.5 .7-4.8 .8 3.3 .7-4.8 .8 3.9 .7-1.7 .7 1.8 .8-5.7 .7 4.5 .8-.7 .7-1.3 .8 3.9 .7-1.6 .8 .1 .7 1.8 .7-7.5 .8 4.2 .7-8.3 .8 3.4 .7-4.4 .8-1.1 .7 .1 .8-4.3 .7-11.1 .7-15.6 .8-26.1 .7-38.4 .8-41.2 .7-45.4 .8-32.9 .7-2.8 .8 8 .7 20.5 .7 33.3 .8 42.9 .7 34.3 .8 28.1 .7 22.8 .8 12.2 .7 8.7 .8 3.3 .7 7.5 .7 4.6 .8-4.8 .7 1.4 .8 4.5 .7 .8 .8 .9 .7-3.2 .8 2.4 .7-1.7 .7 2.7 .8-3.8 .7 4.2 .8-4.4 .7 9.4 .8-9.4 .7 4.6 .8 3.3 .7-3.8 .7 2.1 .8-4.4 .7 5.5 .8 1 .7-.1 .8-4.1 .7 4.9 .8-2.8 .7-.8 .7-1.9 .8 3.9 .7-.7 .8-2.8 .7-.7 .8 2.2 .7-4 .8 6.6 .7-.3 .7 .7 .8-4 .7 8.9 .8-6.6 .7 2.8 .8-2 .7 .9 .8-5.1 .7 5.7 .7-5.3 .8-3.5 .7 1.9 .8 1.3 .7-5.4 .8-1.8 .7-1.7 .8 7.5 .7-1.7 .7-1.6 .8 6 .7-1.9 .8-.4 .7 3.3 .8 .5 .7-3.8 .8 7.9 .7-6.4 .8 2.9 .7-2.7 .7-.3 .8 .8 .7-1.3 .8 1.8 .7 1.3 .8-4.2 .7 5 .8 .3 .7-2.6 .7 2.4 .8-.3 .7 1.2 .8-2 .7-1.6 .8-.7 .7 1.2 .8 .2 .7 2.3 .7-3.9 .8 .5 .7 .4 .8 5 .7 3.6 .8-10.1 .7-.9 .8-.5 .7 4.1 .7 .5 .8 .1 .7-1.4 .8 1.1 .7 .7 .8 6.4 .7-7.4 .8 1.7 .7-3 .7 1.7 .8 .2 .7 6 .8-9 .7 1.5 .8-1.5 .7 3.2 .8-.7 .7-3.2 .7 3.4 .8 .1 .7-.5 .8-1.1 .7 3 .8-1.6 .7 0 .8-.1 .7-1.8 .7 1 .8 .5 .7-1.8 .8 3.6 .7-5 .8 4.9 .7-3.3 .8-.6 .7 2 .7-.5 .8 2.7 .7-4.5 .8-.3 .7 3.1 .8 4.2 .7-7.5 .8 6.1 .7 2.7 .7-7.1 .8 4.6 .7-3.5 .8-1 .7 .3 .8 0 .7-1.7 .8 2.5 .7-1.5 .7 6.7 .8-1.4 .7-3.8 .8-.1 .7 2.8 .8 4.5 .7-2.6 .8-2.4 .7 2.7 .7-9 .8 .1 .7 5.2 .8-3.2 .7 2.3 .8-.7 .7 1.1 .8 .4 .7-1.8 .7-.2 .8 3.4 .7-2.6 .8-.6 .7-.1 .8-1.2 .7-.8 .8 6.8 .7-7.4 .7 3.9 .8-.6 .7-.4 .8 1.6 .7 6.1 .8-2.4 .7-5.5 .8-3.6 .7 4.9 .7-1.1 .8-1.9 .7 4.3 .8-2.9 .7-.4 .8 5.9 .7-2.1 .8-3.4 .7 4.7 .7-3.4 .8-2.1 .7-.3 .8 .3 .7 .1 .8-1.9 .7 .9 .8-3 .7-.8 .7 3.5 .8-1.1 .7-4.7 .8-6.2 .7-2 .8-7.4 .7-3.6 .8-.7 .7 2.7 .7 5.7 .8-1.5 .7 .1 .8 2.1 .7 7.7 .8 4.2 .7-.8 .8 5.5 .7 1.7 .7-2.3 .8 .6 .7-2 .8-1.6 .7 3.1 .8 .3 .7-2.2 .8-.5 .7 2.8 .7-3.8 .8 5.8 .7-6.6 .8 .1 .7-5.1 .8-1.6 .7-2 .8-2.2 .7 5.2 .7-1.4 .8-3.7 .7 2.6 .8 .9 .7-1 .8 3.3 .7-1.1 .8 4 .7 3.2 .7-1 .8 4.9 .7-.3 .8-4.7 .7 5.3 .8-.7 .7 0 .8-2.2 .7 5.9 .8-4.4 .7 4.7 .7-.4 .8 1.7 .7-4.2 .8 4.1 .7-5 .8 6.4 .7-3.1 .8-1 .7 .5 .7 1.9 .8-4.4 .7 2.4 .8-1.7 .7 1.6 .8-2 .7 2.2 .8 2.2 .7-4.6 .7 2.2 .8 2.9 .7-1.8 .8 2 .7-6.3 .8 1.1 .7 2.5 .8 2.7 .7-4.3 .7 4 .8-4.9 .7 6.3 .8-6.5 .7 6.6 .8-5.4 .7 .4 .8-1.3 .7 1.8 .7 6.2 .8-4.4 .7-2 .8-.5 .7 3.3 .8-5.6 .7 5 .8-.1 .7-2.1 .7 1.3 .8-.9 .7 1.7 .8-1.3 .7 2 .8-3.3 .7 2.1 .8-.8 .7-2.1 .7-.6 .8 5.5 .7-8.7 .8-.8 .7 8.5 .8 .7 .7-.2 .8 1.9 .7-2.7 .7 .8 .8-2.1 .7 1.4 .8 3.2 .7-3.6 .8-3.7 .7-.9 .8 5.6 .7-5.6 .7 1.6 .8-.3 .7 7.9 .8-6.5 .7-.4 .8 3.1 .7-1.5 .8-5.8 .7 3.8 .7-5.1 .8 6.5 .7 1.4 .8-2.1 .7 5.2 .8-11.3 .7 10.4 .8-4.8 .7 1.2 .7-2 .8 1.6 .7 1.1 .8-4.5 .7 1.8 .8-1 .7-.2 .8 3.8 .7-1.5 .7 2.1 .8-1.9 .7 .9 .8 5.4 .7-3.2 .8-5.2 .7 .4 .8 3.1 .7 1.2 .7-4 .8-1.6 .7 2.8 .8 4.3 .7-2.7 .8-2.2 .7 .9 .8-1.6 .7 3.5 .7-5.6 .8 3.1 .7 2.3 .8-2.5 .7 3.1 .8 .3 .7 2.1 .8-4.6 .7-2.7 .7-.7 .8 3.4 .7-4.6 .8 7.6 .7-5.4 .8-.1 .7 1 .8 2.2 .7-2.1 .7 2.1 .8-1.7 .7 2.4 .8 2.3 .7-5.8 .8 2.1 .7-4.2 .8 3.9 .7 4.6 .7-1.8 .8 2.6 .7-4.4 .8-3.2 .7 5.3 .8 2.8 .7-5.5 .8-1.9 .7-1.6 .7 4.2 .8 2.9 .7-6.7 .8 2 .7-.7 .8 3.9 .7-3 .8 4.4 .7-5.7 .7 1.8 .8 .3 .7-.7 .8 1.1 .7-.4 .8 1.9 .7-2.4 .8 .4 .7-1.3 .7 3.7 .8-.6 .7-6 .8 6.4 .7 1.5 .8-6.5 .7 2 .8 2.9 .7-.9 .7-1.6 .8 4.6 .7-4.5 .8 1.7 .7 2.8 .8-5 .7 2.9 .8-4.4 .7 1.2 .7 1.8 .8-1.8 .7 .4 .8 .1 .7-1.2 .8 3 .7 2.5 .8-7.1 .7-7.5 .7 4.2 .8 3.4 .7 4.4 .8-1.4 .7-6.2 .8 4.5 .7-2.8 .8 6 .7 2.2 .8-6.6 .7 4.3 .7-2.5 .8-.4 .7 2 .8 .7 .7-2.3 .8-.4 .7 .4 .8 2.6 .7 4.1 .7-3.2 .8-8.2 .7 6.2 .8-6 .7 8.7 .8-1.5 .7 1.1 .8 .2 .7-2.3 .7-.8 .8 3.9 .7-4.3 .8 2.3 .7-3.7 .8 .2 .7 3.3 .8-2.4 .7-.5 .7 2.5 .8-7.7 .7 2.5 .8 2.7 .7 4 .8-1.8 .7-1.3 .8-3.8 .7 1.3 .7-4 .8-6.4 .7-2.7 .8 3.4 .7-9.4 .8-3.3 .7 1.4 .8 1.3 .7-.1 .7 1.7 .8 .2 .7 10.6 .8-.3 .7 1.3 .8 2.6 .7-.4 .8 7.1 .7 4.3 .7-7.4 .8 2.5 .7 4.7 .8-4.9 .7-2.8 .8-1.8 .7 6.7 .8-2.2 .7 2.9 .7-4.6 .8 4.9 .7-2.6 .8-3.9 .7 5.3 .8-.8 .7-3.6 .8 4.6 .7-2.9 .7-1 .8 .8 .7-.1 .8 2.1 .7-1.5 .8-.8 .7 .7 .8 1.7 .7 .4 .7-2.5 .8 1.5 .7-2.1 .8-2.7 .7 4.8 .8 3.9 .7-3.9 .8 .1 .7-3.1 .7 1.4 .8 4 .7-4.5 .8 1 .7-.9 .8 7.5 .7-1.6 .8-.9 .7 2 .7-3.3 .8-.8 .7 .6 .8 .7 .7 1.2 .8-7.4 .7-1.3 .8 7.3 .7-2.8 .7 1.5 .8 .4 .7-7.8 .8 6.1 .7-1.8 .8-.6 .7-.1 .8 9.4 .7-8 .7-3.3 .8 4.5 .7-1.7 .8 1.2 .7-5.5 .8 1.6 .7-5.7 .8 3.4 .7-4.6 .7 .8 .8-2.9 .7-.3 .8 1.7 .7-.5 .8-1.5 .7 8.4 .8-3.5 .7-1.4 .7-.8 .8 5.5 .7 2.3 .8-5.1 .7 4.3 .8 2.5 .7-1.5 .8 .8 .7 3.8 .7-6.2 .8-.8 .7 2.8 .8 .8 .7 4.3 .8 .5 .7-5.2 .8 2.3 .7-1.6 .7 .6 .8 4.3 .7-5.1 .8 4.7 .7-2.8 .8 2.8 .7-4.3 .8-2.4 .7 9.2 .7 2.6 .8-2.3 .7-4.3 .8 .3 .7 .2 .8-.3 .7 5.4 .8-3.9 .7 2.6 .7-3.7 .8 2.6 .7-5.1 .8 0 .7-.4 .8 4.7 .7 1.7 .8-5 .7 1.3 .7-2.6 .8 .1 .7-2.3 .8 7.3 .7-5.6 .8-.7 .7 1.7 .8-.3 .7 .3 .8-.9 .7 5.2 .7-3.3 .8 .6 .7-1 .8-2 .7 2.2 .8-1 .7 2 .8-.6 .7-2.3 .7 3 .8-2.5 .7 3.3 .8-4 .7 1.3 .8 0 .7-1.4 .8 1.9 .7-1.2 .7 .3 .8 5.4 .7-3.1 .8-3.8 .7 3.5 .8-2.6 .7-1.7 .8 1 .7 5 .7-6.9 .8 2.1 .7-.2 .8 .9 .7 3.9 .8-2.7 .7 3.1 .8-4.3 .7 4.1 .7-3.2 .8 2.6 .7-2.7 .8 4 .7 1.3 .8-6.2 .7 .4 .8 3 .7-.9 .7-4.3 .8 2.6 .7 2.4 .8 3.1 .7-6.2 .8-.8 .7 3.3 .8-1.4 .7-1 .7 .7 .8-1.2 .7 3.3 .8-6.3 .7 4.3 .8 1.7 .7-.7 .8-7.2 .7 5.7 .7-2.1 .8 7.3 .7-.5 .8-2.9 .7-1.7 .8 2.9 .7-.3 .8-6.4 .7 8.4 .7-3.6 .8-3.9 .7 6 .8-6.2 .7 4.6 .8 2.4 .7 .3 .8-2.5 .7-3 .7 4.3 .8-.1 .7 1.7 .8-7.4 .7 3.3 .8 .3 .7-1.3 .8 0 .7 1 .7-3 .8 2.5 .7 1.4 .8-5.4 .7 4.6 .8-1.4 .7 1.9 .8 2.7 .7-4.8 .7-1.6 .8 6.3 .7-3.4 .8-4.6 .7 6 .8-.8 .7-4.2 .8 3.2 .7 1.3 .7-4.6 .8 3.5 .7-1.1 .8 1.3 .7 1.9 .8-3.2 .7-.6 .8 3.1 .7-1.5 .7 3.9 .8-6.2 .7-2.2 .8 6.9 .7-4 .8-1 .7 1.2 .8 3.8 .7-8 .7-3.4 .8 3.8 .7-.2 .8 5 .7-3.5 .8 1.6 .7-1.1 .8-2.8 .7 6 .7-1.8 .8 2.9 .7-3.9 .8-3 .7 4.7 .8 2.4 .7-3 .8-3.2 .7 2.3 .7 4 .8 .5 .7-5.8 .8 1.1 .7-4.2 .8 5.7 .7 .4 .8 8.9 .7-8.9 .7 4.4 .8-3.6 .7-1.9 .8 3.6 .7 2 .8-6.9 .7 4.3 .8 1.6 .7-5.7 .7 3.6 .8-.4 .7 1.4 .8 3.9 .7-6.9 .8-.1 .7 3.7 .8-1.2 .7-.6 .7-5.3 .8 5.6 .7-.3 .8-.5 .7-1.1 .8 .4 .7-.1 .8 4.6 .7-2.1 .7 .7 .8-1.1 .7 .9 .8-3.4 .7 5.4 .8-2.2 .7 1.4 .8-2.8 .7 1 .7 .7 .8-1.7 .7-2.3 .8 3 .7 3 .8-2 .7-4.1 .8 3.5 .7 1.3 .7-1.4 .8-2.5 .7-1.7 .8 6.1 .7-2 .8 6.7 .7-6.1 .8 .4 .7-3.5 .8 3.1 .7 3 .7-3.9 .8-1.2 .7-3.7 .8 4.2 .7-6.3 .8 7.7 .7 .9 .8-5.2 .7 1.4 .7 .6 .8-4.2 .7 1.5 .8 1.9 .7-1.7 .8 4.7 .7-.1 .8-1.8 .7 1.8 .7-5.7 .8 4.1 .7 .3 .8-.1 .7-1.2 .8 .9 .7 2.3 .8-3.1 .7-3.5 .7 3.6 .8-.3 .7-2.2 .8 4.3 .7 1.4 .8-.2 .7-1.3 .8-.4 .7-4.3 .7 1.2 .8 4.6 .7-6.6 .8 2.8 .7 5 .8-6.5 .7 3.6 .8 2.3 .7-5.6 .7-2.5 .8 2.2 .7 3.8 .8-1.8 .7 4.5 .8 0 .7-6.2 .8 4.2 .7-1.3 .7 1 .8-2.5 .7-.7 .8 1.2 .7 3.2 .8-2.3 .7 .9 .8 .3 .7-.6 .7-1.5 .8-2.7 .7 3.7 .8 1.4 .7-1 .8-1.9 .7 4.5 .8-4.9 .7 3.8 .7 1.1 .8-1 .7 .1 .8-1.4 .7-2 .8-2.6 .7 4.6 .8 .4 .7-4.9 .7 9 .8-3.5 .7-.3 .8-.6 .7-.6 .8 1.7 .7-.6 .8-3.8 .7 2.3" fill="none" stroke="#ff0000" stroke-width="2.0" stroke-linejoin="round" stroke-linecap="round"/>
<path d="M231.3 1344.7l.7-5.5 .8-.5 .7-5.8 .8 7.1 .7-.8 .8-.6 .7 2.3 .8 .3 .7-4 .7 .5 .8 1.1 .7 3.2 .8-.3 .7-5.1 .8 .6 .7 5 .8 2.3 .7-4.4 .7-1.7 .8 4.8 .7-3.8 .8 2.8 .7 2.3 .8-2.5 .7-1.5 .8 1.8 .7-3.7 .7 1.3 .8-1.1 .7 1 .8-.7 .7 .8 .8-.5 .7 1.3 .8-.1 .7 .6 .7 3 .8-7.9 .7 7.7 .8-4.1 .7-2.7 .8 2.9 .7 .7 .8 2.6 .7-5.7 .7 3.5 .8-.3 .7-4.9 .8 1.4 .7 4.8 .8 .3 .7 1.1 .8-1.5 .7-.4 .7-.7 .8 3 .7-5.6 .8 1.9 .7 1.5 .8-5.3 .7 7.8 .8-5.7 .7 2 .7 6 .8-8 .7 .8 .8 5.6 .7-7.1 .8 1.8 .7 2.6 .8-.2 .7 .4 .7-.6 .8 2.6 .7-.8 .8-1.2 .7-3.4 .8-.1 .7-3.2 .8 7 .7-6.8 .7 7.2 .8 2.6 .7-7.9 .8 1 .7 .5 .8 3.5 .7-4.6 .8 1.9 .7-1.1 .7 .7 .8 4.1 .7-6.1 .8 2.8 .7 .5 .8 1.5 .7-5.8 .8 6.4 .7-1.9 .8 1.2 .7-2.2 .7-4.7 .8 2.6 .7 3.9 .8-2.1 .7-.3 .8 4.9 .7 1.1 .8-6.1 .7 5.2 .7-10.6 .8-.2 .7 7.8 .8-3.1 .7 2.1 .8-.2 .7-1.8 .8 2 .7-1.6 .7-4.8 .8 4.4 .7-.7 .8 3.2 .7-10.8 .8-1.7 .7-6.4 .8-1.3 .7 5.9 .7-11.4 .8-42.8 .7-33.9 .8 36.9 .7 38.6 .8 16.8 .7 8.2 .8-.7 .7-1.9 .7-.8 .8 1.1 .7-3.7 .8 6.8 .7-1.6 .8-.6 .7-3.9 .8 1.6 .7 3.2 .7-.7 .8-2.1 .7 2.6 .8 1.1 .7-4.4 .8 .3 .7-1 .8-.8 .7 5.2 .7-.9 .8-.5 .7-4.1 .8 .2 .7 2.6 .8-1 .7 1.3 .8-2.3 .7 3.6 .7 3 .8-.8 .7 .1 .8-4.2 .7 2.2 .8-3.6 .7 3.4 .8-3.6 .7-.4 .7-.5 .8 3.6 .7-1.3 .8-.3 .7-3.7 .8 3.4 .7-4.4 .8 7.7 .7-4.4 .7 .7 .8-1.1 .7-4.2 .8 .1 .7 2.4 .8-1 .7-16 .8 1.9 .7 9.5 .7 .4 .8 1.3 .7 3.8 .8 1.1 .7-.9 .8 5.2 .7-4.6 .8 1.4 .7 3.2 .7 .3 .8-9 .7 3.2 .8 4.1 .7-7 .8 1.2 .7-1.1 .8-.3 .7 .6 .7 3.4 .8 2.9 .7 .6 .8-4.2 .7-5.4 .8 5.1 .7-.9 .8 1.8 .7-1.4 .7-4.5 .8 5.8 .7-6.7 .8 3.6 .7 2.6 .8 0 .7 3.2 .8-10.7 .7 7.3 .7 .8 .8-2.8 .7 2.6 .8-4.8 .7 4.7 .8-.4 .7-4.2 .8 .8 .7 1.2 .7-1.3 .8 4.5 .7-2.4 .8 3 .7-.5 .8-3 .7-.8 .8-2.1 .7 .3 .7 0 .8 3 .7-3.4 .8 2.5 .7 .3 .8-2 .7 .8 .8 4.3 .7 .4 .7-6.5 .8 1.5 .7-.5 .8 .2 .7 4.8 .8-2.4 .7 1.5 .8 1.3 .7-6 .7 .6 .8 .5 .7 2.6 .8-3.1 .7 2 .8 1.3 .7-.1 .8-2 .7-3.4 .7-2.1 .8 7.1 .7-1.8 .8-3.9 .7 1.1 .8 .1 .7-3.4 .8 5.2 .7-2.9 .7 1.2 .8 2.8 .7-2.4 .8 1.7 .7-.4 .8-1.1 .7 0 .8 4.8 .7-5.6 .7 4.8 .8-6.9 .7 4.3 .8-1.5 .7-2.5 .8-5.3 .7 11.4 .8-7.5 .7 .5 .7 2.9 .8-.3 .7 .6 .8-1.5 .7-3.4 .8 6.3 .7-4.8 .8 3 .7 .9 .8 1.6 .7-3.8 .7-.3 .8 .2 .7-4.4 .8 2.9 .7-.8 .8-.4 .7 3.5 .8-1.4 .7 5.1 .7-.5 .8-9.3 .7 4.8 .8-4.5 .7 1.8 .8-3.2 .7 2.1 .8 .2 .7 3.4 .7-1.4 .8-5.3 .7 3.8 .8 .9 .7 1 .8-1.4 .7 7.1 .8-4.8 .7 3.9 .7-4.5 .8 5.4 .7-7.7 .8 4.8 .7-5.3 .8 4.8 .7 3 .8-8.7 .7 2 .7 3 .8-1.2 .7-3.2 .8 6.7 .7-3 .8 3.3 .7-2.7 .8-4 .7 1.8 .7 5 .8-7.5 .7 2.4 .8 2.8 .7 1.1 .8-.6 .7-6.2 .8 9.5 .7-6.1 .7 .4 .8-.1 .7-.7 .8-2.1 .7 1.5 .8 4.1 .7-7.9 .8-5.2 .7 .3 .7-13.2 .8-1.3 .7 9.9 .8 3.1 .7 8.4 .8 2.9 .7 2.6 .8-.3 .7-5 .7-1.3 .8 3 .7-3.6 .8 7.4 .7-4.1 .8 .1 .7-1.4 .8 6.5 .7-3.4 .7-1.9 .8 2.7 .7-1.9 .8 1.9 .7 1.9 .8-4.3 .7 2.1 .8-.2 .7 1.8 .7-1.5 .8-1.5 .7-1.9 .8 2.5 .7-3.6 .8 4.5 .7-1.6 .8 1.3 .7-2.9 .7-.8 .8-.3 .7 5.4 .8-3.6 .7-.1 .8-4.2 .7 4.6 .8-9.2 .7 13 .7-4.4 .8 .7 .7-3.9 .8 .8 .7 4.6 .8-2.2 .7 1.7 .8 2.2 .7-1.7 .7-6.9 .8 2.4 .7-.4 .8 .5 .7-3.1 .8 0 .7 3.5 .8 .3 .7 3 .7-2.3 .8 4.7 .7-8.8 .8 1.1 .7 4.4 .8-1.5 .7-2 .8 4.7 .7 .9 .7 .5 .8-4.7 .7 1 .8 .6 .7-.5 .8 2.5 .7-4.2 .8 2.3 .7-7.1 .7 7.9 .8 2.3 .7-4.7 .8 2.7 .7-7.7 .8 2.8 .7-4.4 .8 3.6 .7-.7 .7-5.5 .8 1.9 .7 1.6 .8 9 .7-6.3 .8 .6 .7 .4 .8-.6 .7-2 .7-3.8 .8 .8 .7 4.8 .8-5.5 .7-4.4 .8-7.1 .7-6.7 .8-26.7 .7-66.2 .7-112.7 .8-148.7 .7-85.8 .8 31.6 .7 105.9 .8 131.7 .7 93.8 .8 53.1 .7 26 .7 8.7 .8 6.8 .7 .2 .8 .5 .7 2.4 .8 1.4 .7-4.2 .8 3.1 .7-.2 .8 4.4 .7-4.3 .7 4.3 .8-6.3 .7 3.3 .8 3 .7-3.7 .8 3.6 .7-8.8 .8 5.1 .7-.2 .7-1.6 .8-5 .7 3.7 .8-13.5 .7-8.2 .8-45.6 .7-62.1 .8-25.6 .7 25.4 .7 44.9 .8 44.5 .7 28.1 .8 7.3 .7 5.4 .8 1.7 .7 3.5 .8-8.5 .7 4.8 .7 3.3 .8 .2 .7-3.1 .8 .9 .7 .6 .8 .7 .7-1.8 .8-.1 .7-1.2 .7 2 .8 4.8 .7-6.2 .8 5.2 .7 2.6 .8-4.6 .7 5.8 .8-6.7 .7 4.9 .7-4.6 .8-3.1 .7 4.2 .8 4.1 .7-6.6 .8 2.9 .7-4 .8 .3 .7 3.6 .7-1.7 .8 2 .7 1.9 .8-6.6 .7 1.3 .8 2 .7 6.1 .8-7.1 .7-.4 .7 2.5 .8 4.5 .7-7.3 .8 .7 .7 .9 .8 1.9 .7 3.8 .8-9.3 .7-1.4 .7 3.9 .8-2.9 .7-11.2 .8 7.1 .7 5.4 .8-1.4 .7 4.6 .8-.4 .7 1.5 .7-.6 .8-.4 .7 2.7 .8-4.9 .7 1.9 .8 2.7 .7-4.5 .8 .5 .7-1.1 .7-.5 .8 8 .7-4.2 .8 3.8 .7-3.1 .8-1.7 .7-1 .8 1.4 .7-.8 .7 2.6 .8-4.8 .7 2.8 .8 .7 .7-1.8 .8 0 .7 2.1 .8 0 .7-1.8 .7 .2 .8-1.5 .7 3 .8-1.8 .7-3.9 .8 3.3 .7 2.5 .8-.9 .7-3.2 .7 4.4 .8-.4 .7 0 .8 2.5 .7-5.1 .8 2.5 .7-2.3 .8 3.3 .7 .4 .7-1.8 .8 .7 .7-4.3 .8 3.8 .7-4.9 .8 9 .7-2.9 .8-7.4 .7-3.4 .7 9.8 .8-9.4 .7-4.8 .8-12 .7 7.8 .8 1.4 .7 8.3 .8 2.5 .7 7.1 .7-5.4 .8 5.7 .7-3.4 .8 1.6 .7-5.7 .8-.4 .7 7.6 .8-6.1 .7 2.4 .7 .1 .8-1.6 .7 3 .8-4.4 .7 .7 .8 5.7 .7-4.7 .8 4.2 .7-.2 .7 2.3 .8-2.9 .7-6.2 .8 3.2 .7 .7 .8 4.4 .7-2.4 .8-2.3 .7 2.5 .7-2.1 .8 2.4 .7-1 .8 2.5 .7-2.1 .8 1.8 .7-2.7 .8 1.9 .7-2.3 .7 2.2 .8-1.2 .7-.9 .8-.8 .7 .4 .8 2 .7-7.5 .8 9.5 .7-9.7 .7 5.8 .8-.3 .7 2.8 .8-1.3 .7-.8 .8 .3 .7 2.3 .8 3.8 .7-5.4 .7-6.6 .8 4.4 .7 2.3 .8 7.8 .7-11.1 .8 1 .7 2.5 .8-.7 .7-4.6 .8 6.1 .7-6.3 .7 2.7 .8 4.1 .7-7.3 .8 2.3 .7 5.1 .8-5.8 .7-2.9 .8-.3 .7 .4 .7-13.9 .8-11.2 .7-22.4 .8-19.3 .7-1.3 .8 2.4 .7 12.2 .8 19.5 .7 12.9 .7 9.7 .8 12.7 .7 2.3 .8-3.2 .7 5 .8 2.5 .7-2.3 .8 .3 .7-4.6 .7 3.1 .8-4.7 .7 8 .8-3.7 .7 3.7 .8-6.2 .7 3.7 .8-7.6 .7 2.2 .7 1.5 .8-1.4 .7-1.6 .8-4.3 .7 8.6 .8-.9 .7 2.3 .8 1 .7-3.1 .7 3 .8 6.7 .7-9 .8 3.7 .7-2.4 .8 6.5 .7-4.2 .8-3.3 .7 1.3 .7-2.2 .8-2.4 .7-1.1 .8 5.4 .7-1.1 .8 3.5 .7-2.7 .8 2.8 .7 4.3 .7-8.1 .8-.1 .7 6 .8 3.7 .7-8.8 .8-2.3 .7 3.8 .8-.3 .7 3 .7-4.8 .8 2.1 .7-.1 .8-3.5 .7 0 .8 5.5 .7 .3 .8-3.7 .7 6.4 .7-1.7 .8-1.4 .7 .4 .8-.7 .7 1 .8 .4 .7-2.2 .8-5.9 .7 5.2 .7-1.9 .8-1 .7 4.9 .8-6.6 .7 7.2 .8-4.1 .7-1.6 .8 1 .7 8.7 .7-2.4 .8-4.8 .7 3.7 .8 1.9 .7-7.3 .8 1.6 .7 3.3 .8-1.5 .7-2.1 .7 5.5 .8-3.1 .7 .7 .8 4.4 .7-5.3 .8 6 .7-6.5 .8-1.3 .7 .7 .7 2.1 .8-.7 .7-.8 .8-5.1 .7 1.1 .8 2.2 .7 2.7 .8 1.9 .7-10.6 .7 6.2 .8-.9 .7 .9 .8 .8 .7-3.1 .8-1.4 .7 6.3 .8-1 .7-3.5 .7 .5 .8-1.9 .7-2.3 .8 5.6 .7-3.7 .8-1.2 .7 1.7 .8 6.4 .7-3.1 .7-.3 .8-.2 .7 2.3 .8-.3 .7-5.5 .8 2.9 .7-1.1 .8 2.4 .7-.8 .7-5.3 .8 8.6 .7-2.5 .8-5.5 .7 7.9 .8-2.8 .7 .9 .8-1.2 .7 .3 .7-1.9 .8-3.2 .7 2.8 .8 2.2 .7-.4 .8 1.6 .7-2.1 .8-6 .7 8.2 .7-4.3 .8-1.5 .7 2.8 .8-3 .7 4.7 .8-3.6 .7 7.9 .8-6.1 .7-.9 .7-.4 .8-4.2 .7 3.5 .8 .2 .7 1.1 .8-5.2 .7 6.1 .8 3.3 .7-4.8 .8 .9 .7 1.1 .7-3.5 .8 .8 .7 3.6 .8-2.3 .7-4.2 .8-1.9 .7 10.8 .8-5.6 .7-6.2 .7 3.9 .8 .1 .7-3.8 .8-9.4 .7 3.3 .8-14.4 .7-18.5 .8-18.6 .7-25.5 .7-19.3 .8-4.9 .7-4.3 .8 20.3 .7 15.8 .8 21.2 .7 19.1 .8 16.7 .7 10.2 .7 5.3 .8 .7 .7 5.4 .8-1.8 .7-.4 .8 4.6 .7 .2 .8 2.6 .7-8.8 .7 7.7 .8 .4 .7-1.3 .8 3.8 .7-6.3 .8 3.4 .7-1.9 .8 1.1 .7-2.6 .7 2.3 .8 2.3 .7-1.5 .8 .6 .7-3 .8 6.5 .7-6.3 .8 2 .7 1.5 .7-2.1 .8 2.6 .7-1.6 .8 4.1 .7-3.1 .8-.5 .7-3.3 .8 3.4 .7 1.5 .7-1.6 .8-3.8 .7 1.1 .8 .8 .7 .7 .8-3.9 .7 8.9 .8-5.5 .7 .6 .7-1.6 .8 1.1 .7 5.3 .8-7.9 .7 1.1 .8-1.4 .7 1.2 .8 5.7 .7-6 .7 .4 .8-3.7 .7 3.9 .8 1.5 .7-2 .8 .2 .7 3.2 .8-.8 .7-1.8 .7-1.9 .8-2.1 .7 8.6 .8-8.8 .7 5.8 .8-2.4 .7-1.5 .8 4.3 .7-4.6 .7 5.3 .8-6.3 .7 4 .8 1.9 .7-6.2 .8 8.1 .7-3.6 .8-8.5 .7 9.5 .7 1.2 .8-6.2 .7-.2 .8 1.2 .7-6.7 .8 5.1 .7 1.5 .8-4.8 .7 3.7 .7 1.9 .8-12.6 .7-1.3 .8 .8 .7 .5 .8-5.6 .7-11.8 .8-14.6 .7-21.6 .7-27.7 .8-54.4 .7-56.6 .8-55.8 .7-51.2 .8-22.7 .7 14.9 .8 25.7 .7 39.9 .7 52 .8 55.1 .7 40.7 .8 35.7 .7 25.7 .8 16 .7 2.2 .8 9.7 .7 4.1 .7 3.7 .8 3.7 .7 2.4 .8-3.3 .7-.9 .8 4.3 .7-1.5 .8 6.9 .7-3.3 .7-.4 .8 2.9 .7-4.2 .8 1.1 .7 .7 .8 2.5 .7 1.9 .8-1.2 .7 0 .7-2.5 .8 1.8 .7-1.6 .8 3.9 .7-4.8 .8 1.6 .7 .9 .8 1.6 .7-4.1 .7 1.4 .8-1.5 .7-1.4 .8 6.6 .7-1.7 .8-5.3 .7 1.5 .8 4.1 .7-3.2 .7-1.2 .8 6.2 .7-4.7 .8 .2 .7 2.5 .8-3.7 .7 1.7 .8-.1 .7 .9 .7-5.1 .8 3.5 .7-3.9 .8 1.9 .7-6.3 .8-3.7 .7-.8 .8-1.6 .7 3.9 .7 1.3 .8 4.4 .7-.3 .8-.7 .7 6.6 .8-2.8 .7 2.8 .8 3.8 .7-.1 .8-5.2 .7 1.9 .7 4.1 .8-.9 .7-1.2 .8 1 .7-8.2 .8 5.1 .7-3.1 .8 2.2 .7 .7 .7 2.3 .8 2 .7-1.1 .8-1.4 .7-1.7 .8 4.5 .7-2.8 .8-5.5 .7 4.6 .7 1.6 .8-4 .7 3.2 .8 3.5 .7-4.8 .8 .5 .7 .1 .8-2.6 .7 1.4 .7-1.5 .8 2 .7-1.4 .8 4.8 .7-3 .8 2.7 .7-5.8 .8 3.4 .7 1.6 .7 .3 .8-3.5 .7 1.4 .8 .5 .7-1.2 .8-.2 .7 2.6 .8-4.7 .7-1.7 .7 3.6 .8 2.1 .7-7 .8 9.9 .7-3.4 .8 1.3 .7-3.8 .8 2.1 .7 5.1 .7 .1 .8-3.3 .7-2.5 .8 .5 .7 3.9 .8-5.6 .7-.6 .8 2.2 .7 2.8 .7-5.4 .8 3.9 .7 0 .8-.6 .7-.8 .8 2.9 .7-.9 .8-5.6 .7 8.3 .7-3.1 .8-.4 .7-1.8 .8 .1 .7-6.1 .8 6.3 .7 2.2 .8 0 .7-3.5 .7-4.6 .8 3.3 .7 2.3 .8 4.3 .7-7.9 .8 4.5 .7 1.5 .8 .1 .7-2 .7-7.3 .8 9.2 .7-1.3 .8 1.2 .7-4.1 .8 1.3 .7 5.4 .8-4.4 .7 .3 .7-2 .8 5.4 .7-7.9 .8 3.1 .7 2.6 .8-1.3 .7 2.5 .8-1.3 .7 2.8 .7-4.5 .8 .2 .7 1.2 .8-5.7 .7 8.8 .8-6.4 .7 5.6 .8 .8 .7-1.1 .7-2.3 .8-2.2 .7-4.2 .8 7.4 .7-2.2 .8 5.3 .7-5.5 .8 2.5 .7-2.8 .7 2.2 .8-2.1 .7 .5 .8-4.8 .7 3.2 .8 1.5 .7 3.8 .8-2.8 .7-4.2 .7 7.6 .8-3.5 .7 1.9 .8-5.8 .7-7 .8 5.7 .7-2.9 .8-.4 .7-10.5 .7-3.7 .8-3.7 .7 5.9 .8 0 .7 8.3 .8 .4 .7 3.1 .8 .5 .7 4 .7 3.4 .8-3.8 .7 6.1 .8-3.5 .7 3.6 .8 2.5 .7-2.4 .8-8.5 .7 3.6 .7-8.9 .8-6.5 .7-5.1 .8-4 .7 6.7 .8 .5 .7 7 .8-.1 .7-4.5 .7 8.1 .8 2.7 .7 2.6 .8 1 .7 2.9 .8-.8 .7-2.4 .8 4.3 .7 1.4 .7-2.4 .8 3.2 .7-2 .8-2.7 .7 .5 .8 1.1 .7 1.5 .8-1 .7 2.2 .8 .5 .7-5.9 .7-.4 .8 2.9 .7 1.5 .8 1.3 .7-.7 .8-.1 .7-4.2 .8 3.5 .7-2.7 .7 2.9 .8 1.3 .7-4.3 .8 1.2 .7 7.3 .8-8.7 .7 .6 .8-1.6 .7-.9 .7 6.6 .8-4.5 .7 .1 .8-.5 .7-5.5 .8 9.7 .7-3.5 .8 1.3 .7 3.9 .7-4.1 .8 .7 .7 .1 .8 3.1 .7-7.2 .8 2.1 .7-4.4 .8 6 .7 1.7 .7-2.9 .8 6.6 .7-2.8 .8 2.7 .7-4.9 .8 4.5 .7-6.3 .8 2.5 .7-.7 .7-1.5 .8 5.6 .7-.9 .8-5.4 .7 3.7 .8-1.6 .7 .2 .8 1.2 .7-3 .7 1.9 .8 .3 .7-2.5 .8 .3 .7 3.7 .8-2.2 .7 6.3 .8-.6 .7-7.9 .7 2.9 .8-6.4 .7 3.7 .8-.7 .7 .3 .8-3.8 .7 6.6 .8-.4 .7-2.6 .7 2 .8 2.7 .7 1.9 .8-8 .7 7.9 .8-9 .7 2.4 .8 1.2 .7 5.2 .7-2.5 .8-.1 .7 2.7 .8-3.7 .7-1.8 .8 5.2 .7-4.6 .8-2.9 .7-1.3 .7 5.2 .8 4.6 .7-3 .8-2 .7 3.2 .8-7.4 .7 5.2 .8-2.6 .7 5.1 .7-6.1 .8 4.4 .7-1.7 .8-.6 .7 1.7 .8-2.3 .7 4.3 .8-4.4 .7-5.4 .7 10 .8-.3 .7-2.2 .8 2.5 .7-1.9 .8-4.1 .7-3.3 .8 2.8 .7 2.1 .7 2.2 .8-5.3 .7 1.4 .8 6.6 .7-6.1 .8-.1 .7-.6 .8 7 .7-2.3 .7 .3 .8 2.1 .7-1.9 .8 1 .7-2.6 .8 1.3 .7-.6 .8 .1 .7-5.1 .7 2.6 .8-.4 .7-.8 .8 1.7 .7 5 .8-2.4 .7-2.3 .8 .7 .7 2.9 .7-7.2 .8 4.4 .7 3.4 .8 .4 .7-2.5 .8-.9 .7-6.4 .8 2.9 .7 1.8 .7 1.2 .8 0 .7-7.3 .8 4.7 .7 2.3 .8-2.9 .7 1.5 .8 2 .7-.6 .7-.4 .8 1.5 .7 1.1 .8-3.9 .7-2 .8 .9 .7 .6 .8 1.2 .7-4 .7 2 .8 1.4 .7 4.3 .8-2.2 .7-1.8 .8 2.7 .7-1.9 .8 .2 .7 2.2 .7-2 .8-.5 .7 1.6 .8-3.5 .7 1.6 .8-5.8 .7 4.6 .8 5.3 .7-5.2 .7 1 .8-1.2 .7-1.6 .8 4.1 .7-1.4 .8 3 .7-5.4 .8 2.5 .7-1 .7-.7 .8 4.5 .7-4.9 .8 0 .7 8.8 .8-7.1 .7-.3 .8 1.8 .7-4 .8 3.6 .7-4.1 .7 1.9 .8-.3 .7 5.2 .8-2 .7 3.3 .8-.5 .7-6.4 .8 3.3 .7-2.6 .7-.6 .8 4.9 .7 .6 .8-3.5 .7 .5 .8-.1 .7 0 .8 0 .7-3.7 .7 4.4 .8-3.6 .7-1.4 .8 2.8 .7 1 .8 1.5 .7-1.4 .8-.3 .7-2.8 .7 2.8 .8-.8 .7-.1 .8-3.2 .7 5.9 .8-3.6 .7-1.9 .8-4 .7-4.3 .7-.8 .8-10.8 .7-2.5 .8-3.4 .7 .2 .8-2.4 .7 6.1 .8-6.5 .7 11.6 .7-.5 .8 5.1 .7-.4 .8 7.6 .7-.8 .8 3.8 .7-2.9 .8 6.7 .7-.3 .7-4.9 .8 5.1 .7-.3 .8 3.3 .7-4 .8 2.5 .7 3 .8-5.8 .7 7.5 .7-4.3 .8-1.3 .7-3 .8-1.1 .7 7.4 .8-3.8 .7-.4 .8 4.6 .7-1.1 .7-1.5 .8-4.3 .7-1.3 .8 7.9 .7-2.7 .8-.6 .7 5.9 .8-6.3 .7 2.1 .7 4.9 .8-4.2 .7-3.2 .8-.8 .7 5.6 .8-6.7 .7 5.7 .8 2.1 .7-4.7 .7 2.5 .8-2 .7 3.6 .8-3.1 .7-2.7 .8 2.9 .7-.6 .8-2.1 .7 1 .7-2.6 .8 .9 .7 4 .8-6.8 .7 5.8 .8-.8 .7-1.7 .8 5.4 .7-2 .7-3.5 .8 2.1 .7 1.8 .8-6.8 .7 4.7 .8-1.4 .7 1.6 .8 4.5 .7-7.8 .7 .4 .8-2.9 .7 2.8 .8-.6 .7-10.8 .8 7.2 .7-4.1 .8-16.8 .7-2.1 .7 1.2 .8-3 .7 3.3 .8-2 .7 6.7 .8-4.7 .7 7.5 .8 .8 .7 3.5 .7 0 .8 6.8 .7 7.3 .8-3.6 .7 2.5 .8 1.8 .7-2.4 .8 3.7 .7 1.1 .7-2 .8-4.3 .7 9.3 .8-3.9 .7-.1 .8-.5 .7-1 .8-2.8 .7 4.4 .7 .5 .8 2.3 .7 1.8 .8-6.4 .7 6.4 .8-4.1 .7 1.3 .8-4.3 .7 3.7 .7-3.5 .8 4.4 .7-5.2 .8 3.5 .7-1.2 .8 2.1 .7-.3 .8-.3 .7-1.8 .7 3.8 .8-.8 .7-3.7 .8 4.2 .7-3.8 .8 2 .7-.5 .8 0 .7 2.4 .7-7.1 .8 8.4 .7-8.3 .8 8.2 .7-1.8 .8-5.6 .7 5 .8-1.8 .7-2.4 .8 6.5 .7-.2 .7-2 .8 3.5 .7-4.1 .8-1.2 .7 4.3 .8-5.6 .7 4.2 .8 .9 .7-2.4 .7-.4 .8 1.1 .7-.7 .8-2.6 .7-7.8 .8 8.3 .7-2.6 .8 6.7 .7-3.9 .7 1.9 .8 1.3 .7 .8 .8-5.4 .7 8.5 .8-3.4 .7-.8 .8-4.2 .7 8 .7-3.8 .8 1.3 .7-3.9 .8 6 .7-1.2 .8-4.3 .7 5.7 .8-8.3 .7 5.2 .7-.6 .8 .1 .7-3.8 .8 .9 .7 3.6 .8 .2 .7-3 .8-.6 .7-.8 .7 5.1 .8-4.1 .7-1.1 .8-3.7 .7 .2 .8 1.8 .7-2.5 .8 4.4 .7 .3 .7-2 .8 1.6 .7 .9 .8-4.6 .7 6.7 .8-9.5 .7 12.9 .8-9.4 .7 4.1 .7-1.1 .8 2 .7-3.1 .8 3.5 .7-5.8 .8 6.4 .7-2.9 .8 1.8 .7 1.8 .7-6.1 .8 1.6 .7-.4 .8 1.7 .7 .7 .8 1.5 .7-1.4 .8-1 .7 1.9 .7 1.3 .8-.2 .7 3.1 .8-7.5 .7 2.3 .8-4.3 .7 1.7 .8 3.6 .7 1.7 .7-4.9 .8 2.6 .7-1.1 .8 1.1 .7-.9 .8-1.9 .7-5 .8 2 .7 5 .7-1.5 .8 5.8 .7-5.7 .8 2.1 .7-6 .8-.8 .7 4 .8 3.7 .7-3.8 .7-2.4 .8 1.5 .7 .1 .8-1 .7-1.8 .8-3.5 .7-.9 .8 1.1 .7 .4 .7-3.9 .8 7.3 .7-3.4 .8-3.6 .7 3 .8 4.1 .7-6.4 .8-.3 .7 2 .7-6.5 .8 2.2 .7-.4 .8 4.4 .7-6.4 .8 5.9 .7-1.7 .8 1.1 .7-.2 .7 6.1 .8-5.7 .7-.2 .8 4.7 .7-1.8 .8 3.5 .7-1 .8 .8 .7 .6 .7-4.3 .8-.5 .7 11.3 .8-8.3 .7 4.9 .8-4.2 .7 3.1 .8-.3 .7 4.9 .7-4.4 .8-3.4 .7 .4 .8 4.8 .7 1.6 .8 3.2 .7 .3 .8-9.5 .7 3.6 .7-3 .8 4.1 .7 1.5 .8-7.1 .7 7.3 .8-.4 .7-2.6 .8-.9 .7 6.1 .7-4.9 .8-2.5 .7 3.2 .8 2.6 .7-1 .8-7.2 .7 1.7 .8 2.5 .7 1.6 .7 0 .8-3.8 .7 5.9 .8-1.3 .7-5.5 .8 1.7 .7 2.3 .8-3.9 .7 4.2 .7 .4 .8-1.6 .7 2.7 .8 3.4 .7-6.7 .8 3.1 .7-2.5 .8 5.3 .7-.7 .7-3.4 .8-1.7 .7 3.8 .8-2.3 .7-3.2 .8 .6 .7 2.3 .8 6.3 .7-2.9 .8 .8 .7-1.2 .7 1.2 .8 .3 .7-7.1 .8 4.6 .7 .1 .8-.4 .7-.2 .8-8 .7 7.3 .7-4.1 .8 6.2 .7-4 .8 .7 .7 .6 .8-5.4 .7 5 .8-3 .7 6.1 .7-4.1 .8-1.6 .7 6.4 .8-4.2 .7-1.8 .8 2.3 .7-.2 .8 1.1 .7-3.3 .7 5.6 .8-2.1 .7 3.5 .8-2.8 .7-4.2 .8 5.5 .7-3.6 .8 1 .7-7 .7 3.3 .8 7.1 .7-.7 .8-7.8 .7 5.7 .8 0 .7 2.4 .8-6.3 .7-1.8 .7 5.6 .8-2.7 .7 .2 .8-.8 .7 5.7 .8-5.7 .7 5 .8-1 .7-3.4 .7 4.4 .8 .8 .7-2.5 .8-1.6 .7 2.7 .8-4.1 .7 3.3 .8 2.8 .7-7.8 .7-1.2 .8 6.8 .7-4.3 .8 1.1 .7 1.6 .8-2.1 .7 2 .8-3 .7 1.2 .7 1.2 .8 1.8 .7-2.7 .8 2.1 .7 .7 .8-.3 .7-1.7 .8 3.8 .7-5.6 .7 4.9 .8-.1 .7-.3 .8-3.8 .7 4 .8-1.4 .7-4.3 .8 2.2 .7-2.7" fill="none" stroke="#000000" stroke-width="2.3" stroke-linejoin="round" stroke-linecap="round"/>
</g>
<g id="frame">
<rect x="45.0" y="24.0" width="1861.4" height="1390.5" fill="none" stroke="#000" stroke-width="4.9" stroke-linejoin="round"/>
<line x1="417.5" y1="1414.5" x2="417.5" y2="1387.4" stroke="#000" stroke-width="4.8" stroke-linecap="round"/>
<line x1="789.8" y1="1414.5" x2="789.8" y2="1387.4" stroke="#000" stroke-width="4.8" stroke-linecap="round"/>
<line x1="1162.0" y1="1414.5" x2="1162.0" y2="1387.4" stroke="#000" stroke-width="4.8" stroke-linecap="round"/>
<line x1="1534.3" y1="1414.5" x2="1534.3" y2="1387.4" stroke="#000" stroke-width="4.8" stroke-linecap="round"/>
</g>
<g id="labels">
<text class="ann" x="1050.8" y="108.8">Pn:</text>
<text class="ann" x="1143.7" y="108.8">Pentlandite</text>
<text class="icsd" x="1423.4" y="108.8">ICSD-086-2279</text>
<text class="ann" x="1051.4" y="181.7">S</text>
<text class="ann" x="1114.0" y="181.7">:</text>
<text class="ann" x="1144.6" y="181.7">Sulfur</text>
<text class="icsd" x="1425.4" y="181.7">ICSD-078-1888</text>
<text class="ann" x="1051.8" y="255.6">J</text>
<text class="ann" x="1118.0" y="255.6">:</text>
<text class="ann" x="1150.2" y="255.6">Jarosite</text>
<text class="icsd" x="1418.3" y="255.6">ICSD-022-0827</text>
<text class="ann" x="291.2" y="569.0">Pn</text>
<text class="ann" x="359.1" y="548.3">J</text>
<text class="ann" x="458.2" y="550.8">S</text>
<text class="ann" x="559.0" y="401.6">Pn</text>
<text class="ann" x="652.0" y="550.3">S</text>
<text class="ann" x="890.1" y="515.1">Pn</text>
<text class="ann" x="973.7" y="427.5">Pn</text>
<text class="ann" x="1149.0" y="561.4">Pn</text>
<text class="ann" x="1354.1" y="557.1">Pn</text>
<text class="ann" x="1423.2" y="565.5">Pn</text>
<text class="ann" x="1563.3" y="563.3">Pn</text>
<text class="ann" x="500.0" y="859.0">J</text>
<text class="ann" x="598.0" y="775.3">Pn</text>
<text class="ann" x="880.6" y="810.1">J</text>
<text class="ann" x="960.6" y="815.7">J</text>
<text class="ann" x="1304.9" y="849.5">Pn</text>
<text class="ann" x="1740.0" y="609.9">d</text>
<text class="ann" x="1735.0" y="901.8">c</text>
<text class="ann" x="1743.0" y="1099.8">b</text>
<text class="ann" x="1739.3" y="1309.5">a</text>
<text class="tick" x="31.5" y="1484.2">0</text>
<text class="tick" x="389.7" y="1484.2">20</text>
<text class="tick" x="762.5" y="1484.2">40</text>
<text class="tick" x="1134.6" y="1484.2">60</text>
<text class="tick" x="1507.0" y="1484.2">80</text>
<text class="tick" x="1863.2" y="1484.2">100</text>
<text class="axis" y="1594.2"><tspan class="ax2" x="911.2">2</tspan><tspan class="axt" x="945.4">θ</tspan><tspan class="axis" x="976.0">/ </tspan><tspan class="axd" x="1007.7">°</tspan></text>
</g>
</svg>
</body>
</html>
